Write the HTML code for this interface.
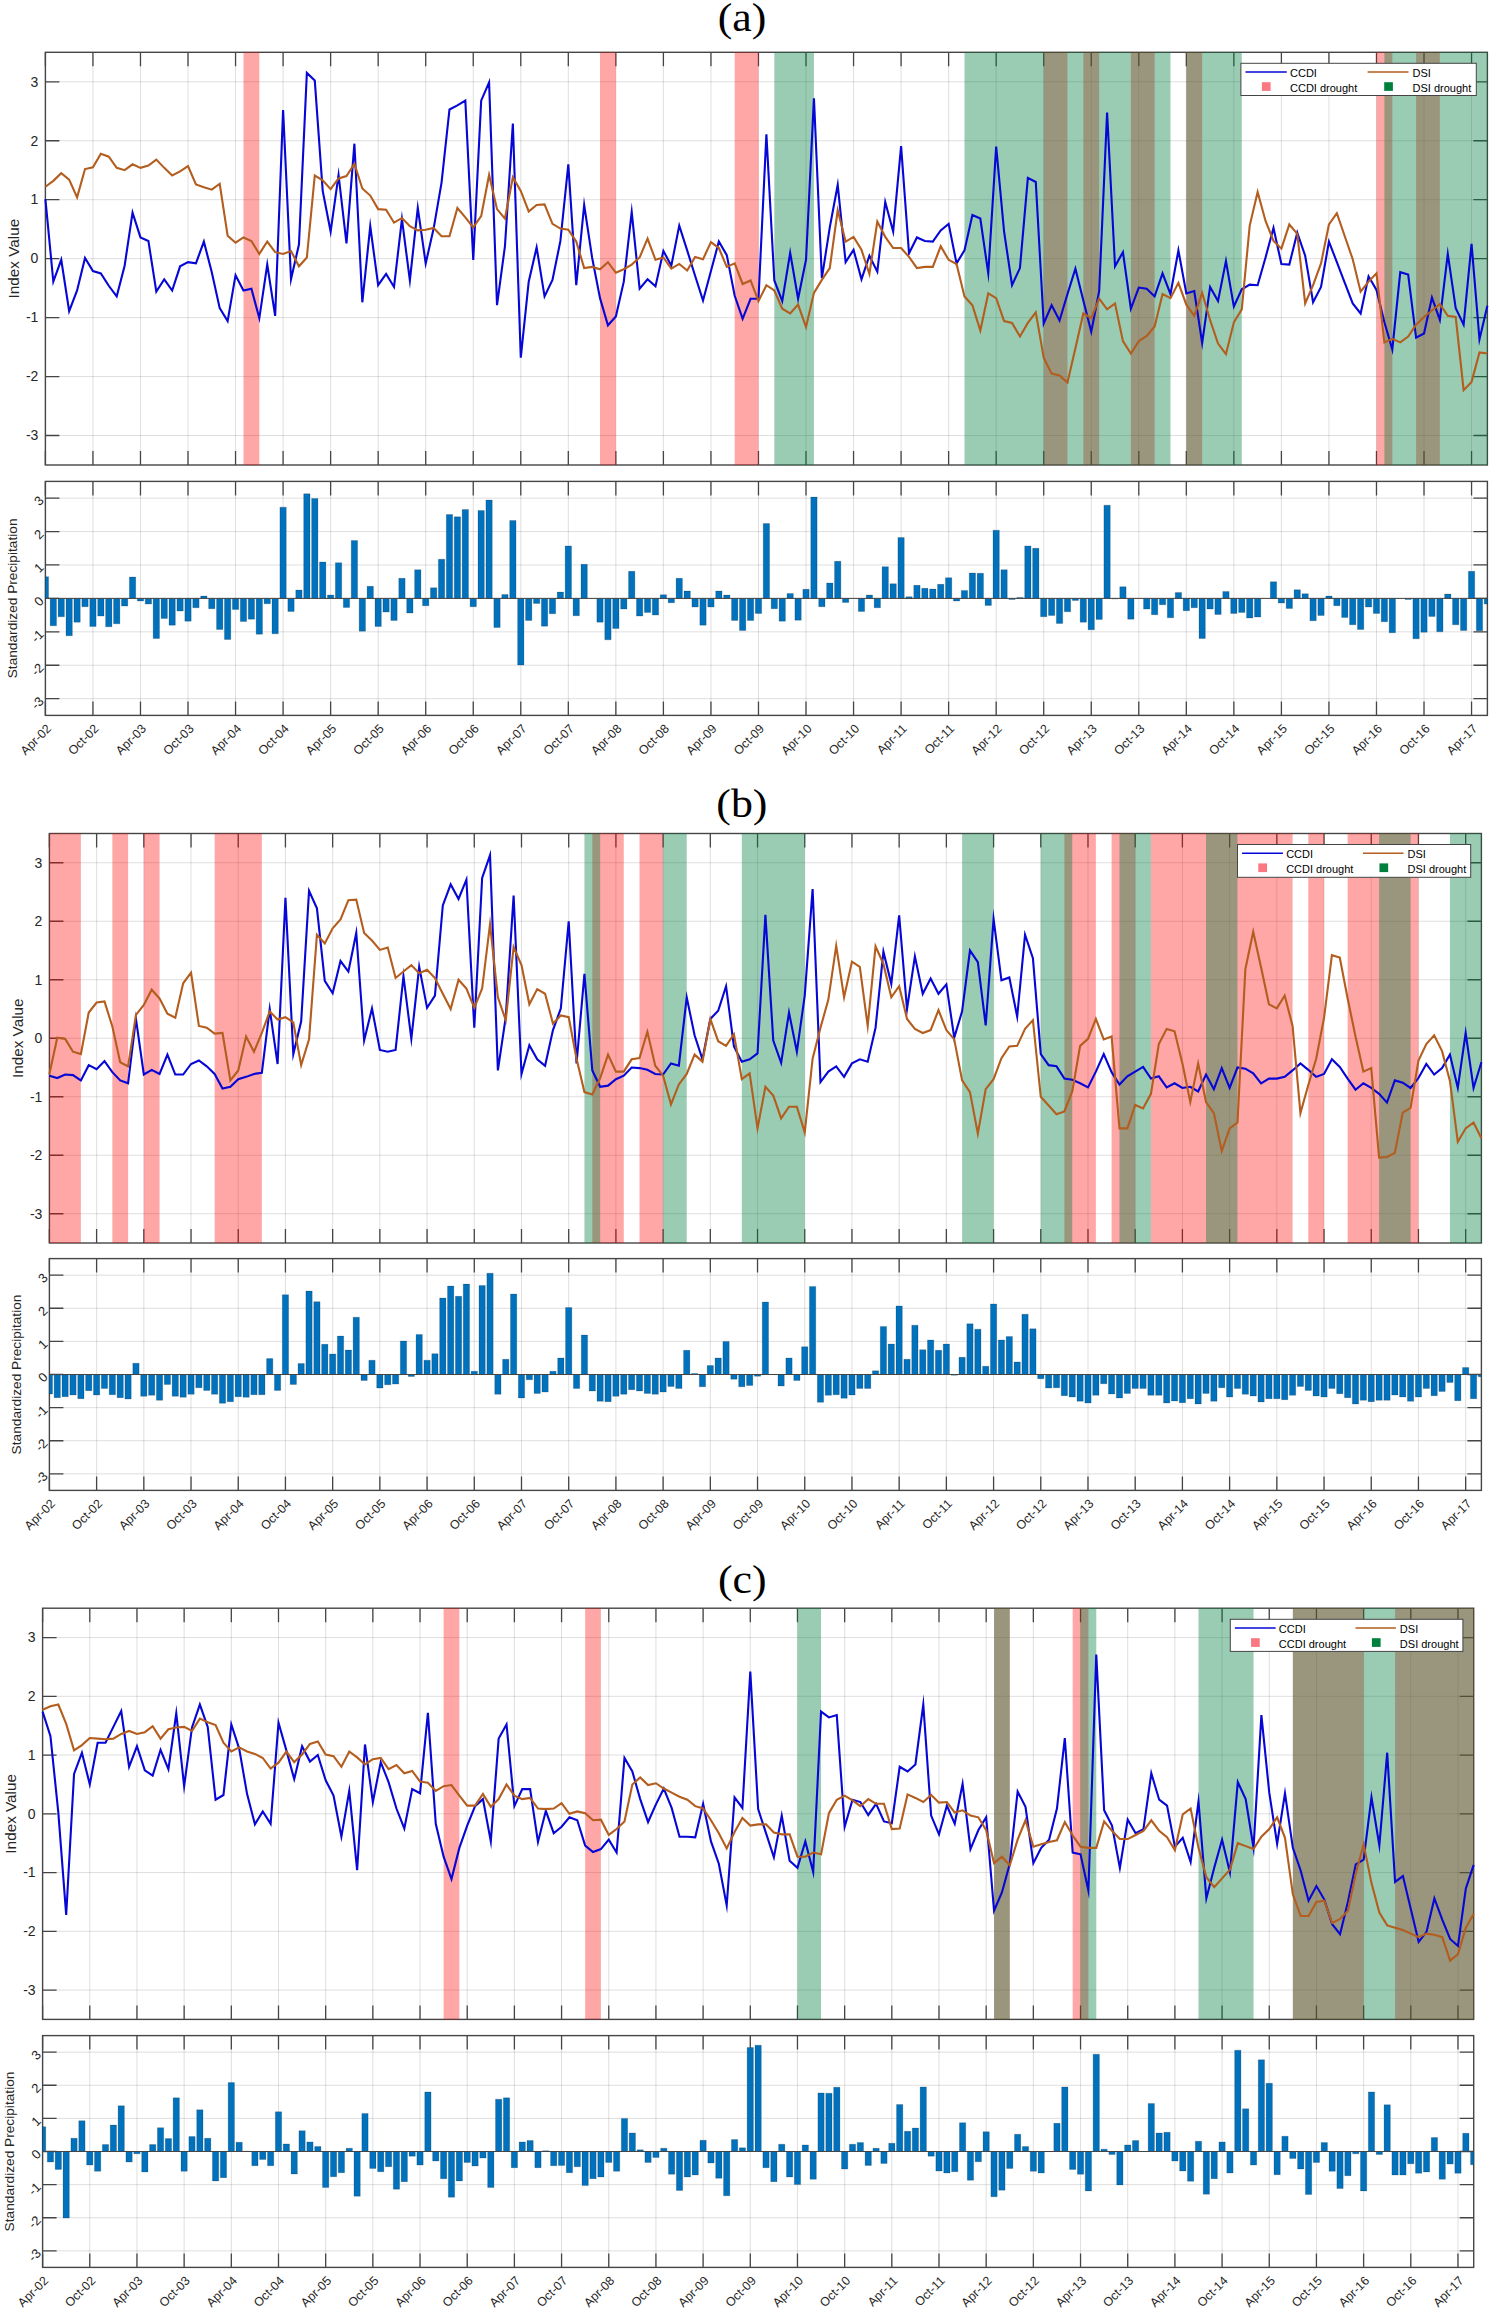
<!DOCTYPE html>
<html><head><meta charset="utf-8"><style>html,body{margin:0;padding:0;background:#fff;}svg{display:block;}</style></head><body>
<svg width="1499" height="2311" viewBox="0 0 1499 2311" font-family='"Liberation Sans", sans-serif'>
<rect width="100%" height="100%" fill="#fff"/>
<text transform="translate(742.1 31) scale(1.07 1)" font-family="'Liberation Serif', serif" font-size="41" text-anchor="middle" fill="#000">(a)</text>
<path d="M45.4 52.3V465M92.94 52.3V465M140.48 52.3V465M188.02 52.3V465M235.55 52.3V465M283.09 52.3V465M330.63 52.3V465M378.17 52.3V465M425.71 52.3V465M473.25 52.3V465M520.78 52.3V465M568.32 52.3V465M615.86 52.3V465M663.4 52.3V465M710.94 52.3V465M758.48 52.3V465M806.02 52.3V465M853.55 52.3V465M901.09 52.3V465M948.63 52.3V465M996.17 52.3V465M1043.71 52.3V465M1091.25 52.3V465M1138.78 52.3V465M1186.32 52.3V465M1233.86 52.3V465M1281.4 52.3V465M1328.94 52.3V465M1376.48 52.3V465M1424.02 52.3V465M1471.55 52.3V465M45.4 435.52H1487.4M45.4 376.56H1487.4M45.4 317.61H1487.4M45.4 258.65H1487.4M45.4 199.69H1487.4M45.4 140.74H1487.4M45.4 81.78H1487.4" stroke="#262626" stroke-opacity="0.15" stroke-width="1" fill="none"/>
<path d="M45.4 465V451M45.4 52.3V66.3M92.94 465V451M92.94 52.3V66.3M140.48 465V451M140.48 52.3V66.3M188.02 465V451M188.02 52.3V66.3M235.55 465V451M235.55 52.3V66.3M283.09 465V451M283.09 52.3V66.3M330.63 465V451M330.63 52.3V66.3M378.17 465V451M378.17 52.3V66.3M425.71 465V451M425.71 52.3V66.3M473.25 465V451M473.25 52.3V66.3M520.78 465V451M520.78 52.3V66.3M568.32 465V451M568.32 52.3V66.3M615.86 465V451M615.86 52.3V66.3M663.4 465V451M663.4 52.3V66.3M710.94 465V451M710.94 52.3V66.3M758.48 465V451M758.48 52.3V66.3M806.02 465V451M806.02 52.3V66.3M853.55 465V451M853.55 52.3V66.3M901.09 465V451M901.09 52.3V66.3M948.63 465V451M948.63 52.3V66.3M996.17 465V451M996.17 52.3V66.3M1043.71 465V451M1043.71 52.3V66.3M1091.25 465V451M1091.25 52.3V66.3M1138.78 465V451M1138.78 52.3V66.3M1186.32 465V451M1186.32 52.3V66.3M1233.86 465V451M1233.86 52.3V66.3M1281.4 465V451M1281.4 52.3V66.3M1328.94 465V451M1328.94 52.3V66.3M1376.48 465V451M1376.48 52.3V66.3M1424.02 465V451M1424.02 52.3V66.3M1471.55 465V451M1471.55 52.3V66.3M45.4 435.52H59.4M1487.4 435.52H1473.4M45.4 376.56H59.4M1487.4 376.56H1473.4M45.4 317.61H59.4M1487.4 317.61H1473.4M45.4 258.65H59.4M1487.4 258.65H1473.4M45.4 199.69H59.4M1487.4 199.69H1473.4M45.4 140.74H59.4M1487.4 140.74H1473.4M45.4 81.78H59.4M1487.4 81.78H1473.4" stroke="#454545" stroke-width="1.3" fill="none"/>
<rect x="45.4" y="52.3" width="1442" height="412.7" stroke="#454545" stroke-width="1.4" fill="none"/>
<rect x="243.48" y="52.3" width="15.85" height="412.7" fill="#ff0000" fill-opacity="0.35"/>
<rect x="600.02" y="52.3" width="15.85" height="412.7" fill="#ff0000" fill-opacity="0.35"/>
<rect x="734.71" y="52.3" width="23.77" height="412.7" fill="#ff0000" fill-opacity="0.35"/>
<rect x="1043.71" y="52.3" width="23.77" height="412.7" fill="#ff0000" fill-opacity="0.35"/>
<rect x="1083.32" y="52.3" width="15.85" height="412.7" fill="#ff0000" fill-opacity="0.35"/>
<rect x="1130.86" y="52.3" width="23.77" height="412.7" fill="#ff0000" fill-opacity="0.35"/>
<rect x="1186.32" y="52.3" width="15.85" height="412.7" fill="#ff0000" fill-opacity="0.35"/>
<rect x="1376.48" y="52.3" width="15.85" height="412.7" fill="#ff0000" fill-opacity="0.35"/>
<rect x="1416.09" y="52.3" width="23.77" height="412.7" fill="#ff0000" fill-opacity="0.35"/>
<rect x="774.32" y="52.3" width="39.62" height="412.7" fill="#008040" fill-opacity="0.4"/>
<rect x="964.48" y="52.3" width="206" height="412.7" fill="#008040" fill-opacity="0.4"/>
<rect x="1186.32" y="52.3" width="55.46" height="412.7" fill="#008040" fill-opacity="0.4"/>
<rect x="1384.4" y="52.3" width="103" height="412.7" fill="#008040" fill-opacity="0.4"/>
<polyline points="45.4,199.1 53.32,281.64 61.25,259.83 69.17,311.12 77.09,290.49 85.02,258.06 92.94,271.03 100.86,273.39 108.78,285.77 116.71,296.38 124.63,265.72 132.55,212.66 140.48,237.43 148.4,240.96 156.32,291.67 164.25,279.28 172.17,290.49 180.09,266.31 188.02,262.19 195.94,263.37 203.86,241.55 211.78,272.21 219.71,308.17 227.63,321.14 235.55,275.16 243.48,290.49 251.4,288.72 259.32,318.2 267.25,264.55 275.17,315.84 283.09,110.08 291.02,279.28 298.94,244.5 306.86,72.94 314.78,80.6 322.71,190.85 330.63,231.53 338.55,174.93 346.48,243.32 354.4,143.68 362.32,302.28 370.25,226.22 378.17,285.18 386.09,273.98 394.02,286.95 401.94,219.15 409.86,280.46 417.78,207.95 425.71,263.37 433.63,228.58 441.55,182.6 449.48,109.49 457.4,105.36 465.32,100.64 473.25,259.83 481.17,100.64 489.09,82.37 497.02,305.23 504.94,246.27 512.86,123.64 520.78,357.7 528.71,281.64 536.63,247.45 544.55,296.38 552.48,279.87 560.4,240.96 568.32,164.32 576.25,285.18 584.17,205 592.09,257.47 600.02,298.15 607.94,325.27 615.86,316.43 623.78,281.64 631.71,212.07 639.63,288.72 647.55,279.28 655.48,286.36 663.4,250.99 671.32,265.72 679.25,225.63 687.17,250.4 695.09,275.75 703.02,300.51 710.94,271.03 718.86,241.55 726.78,255.11 734.71,295.79 742.63,318.79 750.55,298.74 758.48,298.74 766.4,134.25 774.32,280.46 782.25,301.1 790.17,252.75 798.09,298.74 806.02,259.83 813.94,98.29 821.86,278.11 829.78,227.4 837.71,184.95 845.63,262.19 853.55,249.81 861.48,279.28 869.4,255.7 877.32,271.62 885.25,202.05 893.17,231.53 901.09,146.04 909.02,253.34 916.94,237.43 924.86,240.96 932.78,241.55 940.71,230.35 948.63,223.87 956.55,263.37 964.48,250.4 972.4,215.02 980.32,218.56 988.25,273.39 996.17,146.63 1004.09,231.53 1012.02,285.18 1019.94,268.08 1027.86,177.88 1035.78,182.01 1043.71,323.5 1051.63,305.23 1059.55,320.56 1067.48,294.02 1075.4,268.67 1083.32,300.51 1091.25,331.76 1099.17,291.08 1107.09,112.44 1115.02,266.31 1122.94,252.16 1130.86,308.76 1138.78,287.54 1146.71,288.72 1154.63,296.38 1162.55,273.39 1170.48,294.02 1178.4,250.4 1186.32,293.43 1194.25,291.08 1202.17,342.96 1210.09,286.95 1218.02,301.1 1225.94,261.01 1233.86,306.41 1241.78,289.31 1249.71,284.59 1257.63,285.18 1265.55,257.47 1273.48,227.99 1281.4,263.96 1289.32,264.55 1297.25,232.71 1305.17,255.7 1313.09,302.28 1321.02,286.95 1328.94,241.55 1336.86,262.19 1344.78,282.82 1352.71,303.46 1360.63,313.48 1368.55,276.34 1376.48,289.9 1384.4,322.32 1392.32,349.44 1400.25,272.21 1408.17,274.57 1416.09,337.65 1424.02,333.53 1431.94,297.56 1439.86,319.97 1447.78,253.93 1455.71,308.17 1463.63,324.68 1471.55,243.91 1479.48,339.42 1487.4,305.82" stroke="#0606d6" stroke-width="2.1" fill="none" stroke-linejoin="miter" stroke-miterlimit="10"/>
<polyline points="45.4,186.72 53.32,180.83 61.25,173.16 69.17,179.65 77.09,197.33 85.02,169.04 92.94,167.27 100.86,153.71 108.78,156.65 116.71,167.86 124.63,170.21 132.55,164.32 140.48,167.86 148.4,165.5 156.32,159.6 164.25,167.86 172.17,175.52 180.09,171.39 188.02,166.09 195.94,184.36 203.86,187.31 211.78,189.67 219.71,183.77 227.63,235.66 235.55,242.73 243.48,237.43 251.4,240.96 259.32,253.93 267.25,241.55 275.17,252.16 283.09,253.93 291.02,250.99 298.94,266.31 306.86,257.47 314.78,175.52 322.71,180.24 330.63,189.08 338.55,178.47 346.48,176.11 354.4,163.73 362.32,188.49 370.25,195.57 378.17,209.13 386.09,209.72 394.02,222.69 401.94,217.97 409.86,226.22 417.78,230.35 425.71,229.76 433.63,227.99 441.55,236.25 449.48,236.25 457.4,207.95 465.32,217.38 473.25,227.4 481.17,216.2 489.09,174.93 497.02,209.13 504.94,218.56 512.86,177.29 520.78,190.85 528.71,211.48 536.63,205 544.55,204.41 552.48,223.87 560.4,228.58 568.32,229.76 576.25,241.55 584.17,268.08 592.09,266.9 600.02,269.26 607.94,262.19 615.86,272.8 623.78,269.26 631.71,264.55 639.63,257.47 647.55,238.6 655.48,259.83 663.4,257.47 671.32,268.67 679.25,263.96 687.17,270.44 695.09,256.88 703.02,259.24 710.94,242.14 718.86,248.04 726.78,266.9 734.71,263.37 742.63,284 750.55,280.46 758.48,301.1 766.4,285.18 774.32,290.49 782.25,308.76 790.17,313.48 798.09,304.64 806.02,327.04 813.94,292.85 821.86,279.87 829.78,268.08 837.71,210.31 845.63,241.55 853.55,236.84 861.48,249.81 869.4,273.98 877.32,221.51 885.25,236.84 893.17,248.04 901.09,248.04 909.02,256.88 916.94,268.08 924.86,266.9 932.78,266.9 940.71,246.27 948.63,259.83 956.55,263.96 964.48,296.38 972.4,305.23 980.32,330.58 988.25,293.43 996.17,298.15 1004.09,321.14 1012.02,322.91 1019.94,336.47 1027.86,322.91 1035.78,312.3 1043.71,357.7 1051.63,373.62 1059.55,375.39 1067.48,382.46 1075.4,348.26 1083.32,313.48 1091.25,318.2 1099.17,298.74 1107.09,309.35 1115.02,303.46 1122.94,341.19 1130.86,353.57 1138.78,341.19 1146.71,335.88 1154.63,326.45 1162.55,294.02 1170.48,298.15 1178.4,282.82 1186.32,304.64 1194.25,315.84 1202.17,292.85 1210.09,319.97 1218.02,343.55 1225.94,354.16 1233.86,322.32 1241.78,309.35 1249.71,225.63 1257.63,192.03 1265.55,220.92 1273.48,240.96 1281.4,248.63 1289.32,224.45 1297.25,233.89 1305.17,303.46 1313.09,285.18 1321.02,263.37 1328.94,224.45 1336.86,213.25 1344.78,236.25 1352.71,259.24 1360.63,291.67 1368.55,281.64 1376.48,273.39 1384.4,342.37 1392.32,338.83 1400.25,342.37 1408.17,336.47 1416.09,324.68 1424.02,317.02 1431.94,310.53 1439.86,304.05 1447.78,315.84 1455.71,317.02 1463.63,390.12 1471.55,381.87 1479.48,352.39 1487.4,353.57" stroke="#b35d1e" stroke-width="2.1" fill="none" stroke-linejoin="miter" stroke-miterlimit="10"/>
<text x="38.4" y="435.32" font-size="14" text-anchor="end" dominant-baseline="central" fill="#262626">-3</text>
<text x="38.4" y="376.36" font-size="14" text-anchor="end" dominant-baseline="central" fill="#262626">-2</text>
<text x="38.4" y="317.41" font-size="14" text-anchor="end" dominant-baseline="central" fill="#262626">-1</text>
<text x="38.4" y="258.45" font-size="14" text-anchor="end" dominant-baseline="central" fill="#262626">0</text>
<text x="38.4" y="199.49" font-size="14" text-anchor="end" dominant-baseline="central" fill="#262626">1</text>
<text x="38.4" y="140.54" font-size="14" text-anchor="end" dominant-baseline="central" fill="#262626">2</text>
<text x="38.4" y="81.58" font-size="14" text-anchor="end" dominant-baseline="central" fill="#262626">3</text>
<text transform="translate(18.9 258.65) rotate(-90)" font-size="15.3" text-anchor="middle" fill="#262626">Index Value</text>
<rect x="1240.9" y="63.3" width="235.4" height="32.2" fill="#fff" stroke="#454545" stroke-width="1"/>
<path d="M1245.5 72H1286.8" stroke="#0606d6" stroke-width="1.5"/>
<path d="M1367.6 72H1408.5" stroke="#b35d1e" stroke-width="1.5"/>
<rect x="1261.9" y="82.2" width="8.7" height="8.7" fill="#fa7882"/>
<rect x="1384.2" y="82.2" width="8.7" height="8.7" fill="#00803c"/>
<text x="1290" y="72.5" font-size="11" dominant-baseline="central" fill="#000">CCDI</text>
<text x="1412.5" y="72.5" font-size="11" dominant-baseline="central" fill="#000">DSI</text>
<text x="1290" y="88" font-size="11" dominant-baseline="central" fill="#000">CCDI drought</text>
<text x="1412.5" y="88" font-size="11" dominant-baseline="central" fill="#000">DSI drought</text>
<path d="M45.4 481.4V715.4M92.94 481.4V715.4M140.48 481.4V715.4M188.02 481.4V715.4M235.55 481.4V715.4M283.09 481.4V715.4M330.63 481.4V715.4M378.17 481.4V715.4M425.71 481.4V715.4M473.25 481.4V715.4M520.78 481.4V715.4M568.32 481.4V715.4M615.86 481.4V715.4M663.4 481.4V715.4M710.94 481.4V715.4M758.48 481.4V715.4M806.02 481.4V715.4M853.55 481.4V715.4M901.09 481.4V715.4M948.63 481.4V715.4M996.17 481.4V715.4M1043.71 481.4V715.4M1091.25 481.4V715.4M1138.78 481.4V715.4M1186.32 481.4V715.4M1233.86 481.4V715.4M1281.4 481.4V715.4M1328.94 481.4V715.4M1376.48 481.4V715.4M1424.02 481.4V715.4M1471.55 481.4V715.4M45.4 698.69H1487.4M45.4 665.26H1487.4M45.4 631.83H1487.4M45.4 598.4H1487.4M45.4 564.97H1487.4M45.4 531.54H1487.4M45.4 498.11H1487.4" stroke="#262626" stroke-opacity="0.15" stroke-width="1" fill="none"/>
<path d="M45.4 715.4V701.4M45.4 481.4V495.4M92.94 715.4V701.4M92.94 481.4V495.4M140.48 715.4V701.4M140.48 481.4V495.4M188.02 715.4V701.4M188.02 481.4V495.4M235.55 715.4V701.4M235.55 481.4V495.4M283.09 715.4V701.4M283.09 481.4V495.4M330.63 715.4V701.4M330.63 481.4V495.4M378.17 715.4V701.4M378.17 481.4V495.4M425.71 715.4V701.4M425.71 481.4V495.4M473.25 715.4V701.4M473.25 481.4V495.4M520.78 715.4V701.4M520.78 481.4V495.4M568.32 715.4V701.4M568.32 481.4V495.4M615.86 715.4V701.4M615.86 481.4V495.4M663.4 715.4V701.4M663.4 481.4V495.4M710.94 715.4V701.4M710.94 481.4V495.4M758.48 715.4V701.4M758.48 481.4V495.4M806.02 715.4V701.4M806.02 481.4V495.4M853.55 715.4V701.4M853.55 481.4V495.4M901.09 715.4V701.4M901.09 481.4V495.4M948.63 715.4V701.4M948.63 481.4V495.4M996.17 715.4V701.4M996.17 481.4V495.4M1043.71 715.4V701.4M1043.71 481.4V495.4M1091.25 715.4V701.4M1091.25 481.4V495.4M1138.78 715.4V701.4M1138.78 481.4V495.4M1186.32 715.4V701.4M1186.32 481.4V495.4M1233.86 715.4V701.4M1233.86 481.4V495.4M1281.4 715.4V701.4M1281.4 481.4V495.4M1328.94 715.4V701.4M1328.94 481.4V495.4M1376.48 715.4V701.4M1376.48 481.4V495.4M1424.02 715.4V701.4M1424.02 481.4V495.4M1471.55 715.4V701.4M1471.55 481.4V495.4M45.4 698.69H59.4M1487.4 698.69H1473.4M45.4 665.26H59.4M1487.4 665.26H1473.4M45.4 631.83H59.4M1487.4 631.83H1473.4M45.4 598.4H59.4M1487.4 598.4H1473.4M45.4 564.97H59.4M1487.4 564.97H1473.4M45.4 531.54H59.4M1487.4 531.54H1473.4M45.4 498.11H59.4M1487.4 498.11H1473.4" stroke="#454545" stroke-width="1.3" fill="none"/>
<rect x="45.4" y="481.4" width="1442" height="234" stroke="#454545" stroke-width="1.4" fill="none"/>
<path d="M45.4 598.4H48.57V576.67H45.4ZM50.15 598.4H56.49V625.81H50.15ZM58.08 598.4H64.42V616.79H58.08ZM66 598.4H72.34V635.84H66ZM73.92 598.4H80.26V622.13H73.92ZM81.85 598.4H88.18V606.76H81.85ZM89.77 598.4H96.11V626.48H89.77ZM97.69 598.4H104.03V616.12H97.69ZM105.62 598.4H111.95V626.81H105.62ZM113.54 598.4H119.88V623.81H113.54ZM121.46 598.4H127.8V606.09H121.46ZM129.38 598.4H135.72V577.01H129.38ZM137.31 598.4H143.65V601.07H137.31ZM145.23 598.4H151.57V604.08H145.23ZM153.15 598.4H159.49V638.51H153.15ZM161.08 598.4H167.42V618.46H161.08ZM169 598.4H175.34V625.14H169ZM176.92 598.4H183.26V611.1H176.92ZM184.85 598.4H191.18V621.13H184.85ZM192.77 598.4H199.11V607.76H192.77ZM200.69 598.4H207.03V596.06H200.69ZM208.62 598.4H214.95V608.76H208.62ZM216.54 598.4H222.88V629.49H216.54ZM224.46 598.4H230.8V639.52H224.46ZM232.38 598.4H238.72V609.43H232.38ZM240.31 598.4H246.65V621.47H240.31ZM248.23 598.4H254.57V619.13H248.23ZM256.15 598.4H262.49V634.17H256.15ZM264.08 598.4H270.42V603.75H264.08ZM272 598.4H278.34V633.83H272ZM279.92 598.4H286.26V507.14H279.92ZM287.85 598.4H294.18V611.44H287.85ZM295.77 598.4H302.11V590.04H295.77ZM303.69 598.4H310.03V493.77H303.69ZM311.62 598.4H317.95V498.45H311.62ZM319.54 598.4H325.88V561.96H319.54ZM327.46 598.4H333.8V595.06H327.46ZM335.38 598.4H341.72V562.63H335.38ZM343.31 598.4H349.65V607.43H343.31ZM351.23 598.4H357.57V540.57H351.23ZM359.15 598.4H365.49V631.16H359.15ZM367.08 598.4H373.42V586.37H367.08ZM375 598.4H381.34V626.48H375ZM382.92 598.4H389.26V612.11H382.92ZM390.85 598.4H397.18V620.46H390.85ZM398.77 598.4H405.11V578.34H398.77ZM406.69 598.4H413.03V613.11H406.69ZM414.62 598.4H420.95V569.65H414.62ZM422.54 598.4H428.88V605.75H422.54ZM430.46 598.4H436.8V587.7H430.46ZM438.38 598.4H444.72V559.29H438.38ZM446.31 598.4H452.65V514.49H446.31ZM454.23 598.4H460.57V516.83H454.23ZM462.15 598.4H468.49V509.48H462.15ZM470.08 598.4H476.42V606.76H470.08ZM478 598.4H484.34V510.48H478ZM485.92 598.4H492.26V500.12H485.92ZM493.85 598.4H500.18V627.48H493.85ZM501.77 598.4H508.11V594.39H501.77ZM509.69 598.4H516.03V520.51H509.69ZM517.62 598.4H523.95V664.92H517.62ZM525.54 598.4H531.88V620.46H525.54ZM533.46 598.4H539.8V603.41H533.46ZM541.38 598.4H547.72V626.15H541.38ZM549.31 598.4H555.65V613.78H549.31ZM557.23 598.4H563.57V592.05H557.23ZM565.15 598.4H571.49V545.92H565.15ZM573.08 598.4H579.42V615.78H573.08ZM581 598.4H587.34V564.3H581ZM596.85 598.4H603.18V622.13H596.85ZM604.77 598.4H611.11V639.85H604.77ZM612.69 598.4H619.03V628.49H612.69ZM620.62 598.4H626.95V609.1H620.62ZM628.54 598.4H634.88V571.32H628.54ZM636.46 598.4H642.8V616.12H636.46ZM644.38 598.4H650.72V612.44H644.38ZM652.31 598.4H658.65V615.11H652.31ZM660.23 598.4H666.57V594.72H660.23ZM668.15 598.4H674.49V602.75H668.15ZM676.08 598.4H682.42V578.34H676.08ZM684 598.4H690.34V591.05H684ZM691.92 598.4H698.26V607.09H691.92ZM699.85 598.4H706.18V625.14H699.85ZM707.77 598.4H714.11V607.09H707.77ZM715.69 598.4H722.03V591.05H715.69ZM723.62 598.4H729.95V595.06H723.62ZM731.54 598.4H737.88V620.46H731.54ZM739.46 598.4H745.8V630.49H739.46ZM747.38 598.4H753.72V620.46H747.38ZM755.31 598.4H761.65V613.44H755.31ZM763.23 598.4H769.57V523.52H763.23ZM771.15 598.4H777.49V608.76H771.15ZM779.08 598.4H785.42V621.13H779.08ZM787 598.4H793.34V593.39H787ZM794.92 598.4H801.26V620.13H794.92ZM802.85 598.4H809.18V589.37H802.85ZM810.77 598.4H817.11V497.11H810.77ZM818.69 598.4H825.03V606.76H818.69ZM826.62 598.4H832.95V583.02H826.62ZM834.54 598.4H840.88V561.29H834.54ZM842.46 598.4H848.8V602.41H842.46ZM858.31 598.4H864.65V611.44H858.31ZM866.23 598.4H872.57V595.06H866.23ZM874.15 598.4H880.49V607.76H874.15ZM882.08 598.4H888.42V566.64H882.08ZM890 598.4H896.34V583.69H890ZM897.92 598.4H904.26V537.56H897.92ZM905.85 598.4H912.18V596.73H905.85ZM913.77 598.4H920.11V585.36H913.77ZM921.69 598.4H928.03V588.37H921.69ZM929.62 598.4H935.95V589.04H929.62ZM937.54 598.4H943.88V584.36H937.54ZM945.46 598.4H951.8V577.67H945.46ZM953.38 598.4H959.72V601.07H953.38ZM961.31 598.4H967.65V590.38H961.31ZM969.23 598.4H975.57V572.99H969.23ZM977.15 598.4H983.49V573.33H977.15ZM985.08 598.4H991.42V605.42H985.08ZM993 598.4H999.34V530.21H993ZM1000.92 598.4H1007.26V569.65H1000.92ZM1008.85 598.4H1015.18V599.4H1008.85ZM1016.77 598.4H1023.11V597.4H1016.77ZM1024.69 598.4H1031.03V545.92H1024.69ZM1032.62 598.4H1038.95V548.26H1032.62ZM1040.54 598.4H1046.88V616.79H1040.54ZM1048.46 598.4H1054.8V615.45H1048.46ZM1056.38 598.4H1062.72V623.47H1056.38ZM1064.31 598.4H1070.65V611.77H1064.31ZM1072.23 598.4H1078.57V600.41H1072.23ZM1080.15 598.4H1086.49V622.13H1080.15ZM1088.08 598.4H1094.42V629.82H1088.08ZM1096 598.4H1102.34V619.46H1096ZM1103.92 598.4H1110.26V505.13H1103.92ZM1111.85 598.4H1118.18V599.07H1111.85ZM1119.77 598.4H1126.11V586.7H1119.77ZM1127.69 598.4H1134.03V619.13H1127.69ZM1143.54 598.4H1149.88V609.1H1143.54ZM1151.46 598.4H1157.8V614.78H1151.46ZM1159.38 598.4H1165.72V604.75H1159.38ZM1167.31 598.4H1173.65V617.79H1167.31ZM1175.23 598.4H1181.57V592.38H1175.23ZM1183.15 598.4H1189.49V610.77H1183.15ZM1191.08 598.4H1197.42V607.76H1191.08ZM1199 598.4H1205.34V638.51H1199ZM1206.92 598.4H1213.26V609.1H1206.92ZM1214.85 598.4H1221.18V614.45H1214.85ZM1222.77 598.4H1229.11V591.38H1222.77ZM1230.69 598.4H1237.03V613.44H1230.69ZM1238.62 598.4H1244.95V612.44H1238.62ZM1246.54 598.4H1252.88V618.12H1246.54ZM1254.46 598.4H1260.8V617.12H1254.46ZM1270.31 598.4H1276.65V581.69H1270.31ZM1278.23 598.4H1284.57V603.08H1278.23ZM1286.15 598.4H1292.49V608.43H1286.15ZM1294.08 598.4H1300.42V589.71H1294.08ZM1302 598.4H1308.34V593.72H1302ZM1309.92 598.4H1316.26V620.8H1309.92ZM1317.85 598.4H1324.18V615.45H1317.85ZM1325.77 598.4H1332.11V596.06H1325.77ZM1333.69 598.4H1340.03V605.75H1333.69ZM1341.62 598.4H1347.95V617.45H1341.62ZM1349.54 598.4H1355.88V624.81H1349.54ZM1357.46 598.4H1363.8V629.49H1357.46ZM1365.38 598.4H1371.72V607.09H1365.38ZM1373.31 598.4H1379.65V613.44H1373.31ZM1381.23 598.4H1387.57V621.8H1381.23ZM1389.15 598.4H1395.49V632.83H1389.15ZM1405 598.4H1411.34V599.4H1405ZM1412.92 598.4H1419.26V638.85H1412.92ZM1420.85 598.4H1427.18V632.16H1420.85ZM1428.77 598.4H1435.11V616.45H1428.77ZM1436.69 598.4H1443.03V631.83H1436.69ZM1444.62 598.4H1450.95V594.05H1444.62ZM1452.54 598.4H1458.88V624.81H1452.54ZM1460.46 598.4H1466.8V630.49H1460.46ZM1468.38 598.4H1474.72V571.32H1468.38ZM1476.31 598.4H1482.65V630.83H1476.31ZM1484.23 598.4H1487.4V604.08H1484.23Z" fill="#0072bd" stroke="#000" stroke-opacity="0.35" stroke-width="0.5"/>
<path d="M45.4 598.4H1487.4" stroke="#454545" stroke-width="1"/>
<text transform="translate(41.4 698.89) rotate(-45)" font-size="13" text-anchor="end" dominant-baseline="central" fill="#262626">-3</text>
<text transform="translate(41.4 665.46) rotate(-45)" font-size="13" text-anchor="end" dominant-baseline="central" fill="#262626">-2</text>
<text transform="translate(41.4 632.03) rotate(-45)" font-size="13" text-anchor="end" dominant-baseline="central" fill="#262626">-1</text>
<text transform="translate(41.4 598.6) rotate(-45)" font-size="13" text-anchor="end" dominant-baseline="central" fill="#262626">0</text>
<text transform="translate(41.4 565.17) rotate(-45)" font-size="13" text-anchor="end" dominant-baseline="central" fill="#262626">1</text>
<text transform="translate(41.4 531.74) rotate(-45)" font-size="13" text-anchor="end" dominant-baseline="central" fill="#262626">2</text>
<text transform="translate(41.4 498.31) rotate(-45)" font-size="13" text-anchor="end" dominant-baseline="central" fill="#262626">3</text>
<text transform="translate(16.9 598.4) rotate(-90)" font-size="13.7" text-anchor="middle" fill="#262626">Standardized Precipitation</text>
<text transform="translate(51.9 729.4) rotate(-45)" font-size="12.4" text-anchor="end" fill="#262626">Apr-02</text>
<text transform="translate(99.44 729.4) rotate(-45)" font-size="12.4" text-anchor="end" fill="#262626">Oct-02</text>
<text transform="translate(146.98 729.4) rotate(-45)" font-size="12.4" text-anchor="end" fill="#262626">Apr-03</text>
<text transform="translate(194.52 729.4) rotate(-45)" font-size="12.4" text-anchor="end" fill="#262626">Oct-03</text>
<text transform="translate(242.05 729.4) rotate(-45)" font-size="12.4" text-anchor="end" fill="#262626">Apr-04</text>
<text transform="translate(289.59 729.4) rotate(-45)" font-size="12.4" text-anchor="end" fill="#262626">Oct-04</text>
<text transform="translate(337.13 729.4) rotate(-45)" font-size="12.4" text-anchor="end" fill="#262626">Apr-05</text>
<text transform="translate(384.67 729.4) rotate(-45)" font-size="12.4" text-anchor="end" fill="#262626">Oct-05</text>
<text transform="translate(432.21 729.4) rotate(-45)" font-size="12.4" text-anchor="end" fill="#262626">Apr-06</text>
<text transform="translate(479.75 729.4) rotate(-45)" font-size="12.4" text-anchor="end" fill="#262626">Oct-06</text>
<text transform="translate(527.28 729.4) rotate(-45)" font-size="12.4" text-anchor="end" fill="#262626">Apr-07</text>
<text transform="translate(574.82 729.4) rotate(-45)" font-size="12.4" text-anchor="end" fill="#262626">Oct-07</text>
<text transform="translate(622.36 729.4) rotate(-45)" font-size="12.4" text-anchor="end" fill="#262626">Apr-08</text>
<text transform="translate(669.9 729.4) rotate(-45)" font-size="12.4" text-anchor="end" fill="#262626">Oct-08</text>
<text transform="translate(717.44 729.4) rotate(-45)" font-size="12.4" text-anchor="end" fill="#262626">Apr-09</text>
<text transform="translate(764.98 729.4) rotate(-45)" font-size="12.4" text-anchor="end" fill="#262626">Oct-09</text>
<text transform="translate(812.52 729.4) rotate(-45)" font-size="12.4" text-anchor="end" fill="#262626">Apr-10</text>
<text transform="translate(860.05 729.4) rotate(-45)" font-size="12.4" text-anchor="end" fill="#262626">Oct-10</text>
<text transform="translate(907.59 729.4) rotate(-45)" font-size="12.4" text-anchor="end" fill="#262626">Apr-11</text>
<text transform="translate(955.13 729.4) rotate(-45)" font-size="12.4" text-anchor="end" fill="#262626">Oct-11</text>
<text transform="translate(1002.67 729.4) rotate(-45)" font-size="12.4" text-anchor="end" fill="#262626">Apr-12</text>
<text transform="translate(1050.21 729.4) rotate(-45)" font-size="12.4" text-anchor="end" fill="#262626">Oct-12</text>
<text transform="translate(1097.75 729.4) rotate(-45)" font-size="12.4" text-anchor="end" fill="#262626">Apr-13</text>
<text transform="translate(1145.28 729.4) rotate(-45)" font-size="12.4" text-anchor="end" fill="#262626">Oct-13</text>
<text transform="translate(1192.82 729.4) rotate(-45)" font-size="12.4" text-anchor="end" fill="#262626">Apr-14</text>
<text transform="translate(1240.36 729.4) rotate(-45)" font-size="12.4" text-anchor="end" fill="#262626">Oct-14</text>
<text transform="translate(1287.9 729.4) rotate(-45)" font-size="12.4" text-anchor="end" fill="#262626">Apr-15</text>
<text transform="translate(1335.44 729.4) rotate(-45)" font-size="12.4" text-anchor="end" fill="#262626">Oct-15</text>
<text transform="translate(1382.98 729.4) rotate(-45)" font-size="12.4" text-anchor="end" fill="#262626">Apr-16</text>
<text transform="translate(1430.52 729.4) rotate(-45)" font-size="12.4" text-anchor="end" fill="#262626">Oct-16</text>
<text transform="translate(1478.05 729.4) rotate(-45)" font-size="12.4" text-anchor="end" fill="#262626">Apr-17</text>
<text transform="translate(741.9 817) scale(1.07 1)" font-family="'Liberation Serif', serif" font-size="41" text-anchor="middle" fill="#000">(b)</text>
<path d="M49.4 833.5V1243M96.61 833.5V1243M143.82 833.5V1243M191.03 833.5V1243M238.24 833.5V1243M285.44 833.5V1243M332.65 833.5V1243M379.86 833.5V1243M427.07 833.5V1243M474.28 833.5V1243M521.49 833.5V1243M568.7 833.5V1243M615.91 833.5V1243M663.11 833.5V1243M710.32 833.5V1243M757.53 833.5V1243M804.74 833.5V1243M851.95 833.5V1243M899.16 833.5V1243M946.37 833.5V1243M993.58 833.5V1243M1040.78 833.5V1243M1087.99 833.5V1243M1135.2 833.5V1243M1182.41 833.5V1243M1229.62 833.5V1243M1276.83 833.5V1243M1324.04 833.5V1243M1371.25 833.5V1243M1418.45 833.5V1243M1465.66 833.5V1243M49.4 1213.75H1481.4M49.4 1155.25H1481.4M49.4 1096.75H1481.4M49.4 1038.25H1481.4M49.4 979.75H1481.4M49.4 921.25H1481.4M49.4 862.75H1481.4" stroke="#262626" stroke-opacity="0.15" stroke-width="1" fill="none"/>
<path d="M49.4 1243V1229M49.4 833.5V847.5M96.61 1243V1229M96.61 833.5V847.5M143.82 1243V1229M143.82 833.5V847.5M191.03 1243V1229M191.03 833.5V847.5M238.24 1243V1229M238.24 833.5V847.5M285.44 1243V1229M285.44 833.5V847.5M332.65 1243V1229M332.65 833.5V847.5M379.86 1243V1229M379.86 833.5V847.5M427.07 1243V1229M427.07 833.5V847.5M474.28 1243V1229M474.28 833.5V847.5M521.49 1243V1229M521.49 833.5V847.5M568.7 1243V1229M568.7 833.5V847.5M615.91 1243V1229M615.91 833.5V847.5M663.11 1243V1229M663.11 833.5V847.5M710.32 1243V1229M710.32 833.5V847.5M757.53 1243V1229M757.53 833.5V847.5M804.74 1243V1229M804.74 833.5V847.5M851.95 1243V1229M851.95 833.5V847.5M899.16 1243V1229M899.16 833.5V847.5M946.37 1243V1229M946.37 833.5V847.5M993.58 1243V1229M993.58 833.5V847.5M1040.78 1243V1229M1040.78 833.5V847.5M1087.99 1243V1229M1087.99 833.5V847.5M1135.2 1243V1229M1135.2 833.5V847.5M1182.41 1243V1229M1182.41 833.5V847.5M1229.62 1243V1229M1229.62 833.5V847.5M1276.83 1243V1229M1276.83 833.5V847.5M1324.04 1243V1229M1324.04 833.5V847.5M1371.25 1243V1229M1371.25 833.5V847.5M1418.45 1243V1229M1418.45 833.5V847.5M1465.66 1243V1229M1465.66 833.5V847.5M49.4 1213.75H63.4M1481.4 1213.75H1467.4M49.4 1155.25H63.4M1481.4 1155.25H1467.4M49.4 1096.75H63.4M1481.4 1096.75H1467.4M49.4 1038.25H63.4M1481.4 1038.25H1467.4M49.4 979.75H63.4M1481.4 979.75H1467.4M49.4 921.25H63.4M1481.4 921.25H1467.4M49.4 862.75H63.4M1481.4 862.75H1467.4" stroke="#454545" stroke-width="1.3" fill="none"/>
<rect x="49.4" y="833.5" width="1432" height="409.5" stroke="#454545" stroke-width="1.4" fill="none"/>
<rect x="49.4" y="833.5" width="31.47" height="409.5" fill="#ff0000" fill-opacity="0.35"/>
<rect x="112.35" y="833.5" width="15.74" height="409.5" fill="#ff0000" fill-opacity="0.35"/>
<rect x="143.82" y="833.5" width="15.74" height="409.5" fill="#ff0000" fill-opacity="0.35"/>
<rect x="214.63" y="833.5" width="47.21" height="409.5" fill="#ff0000" fill-opacity="0.35"/>
<rect x="592.3" y="833.5" width="31.47" height="409.5" fill="#ff0000" fill-opacity="0.35"/>
<rect x="639.51" y="833.5" width="23.6" height="409.5" fill="#ff0000" fill-opacity="0.35"/>
<rect x="1064.39" y="833.5" width="31.47" height="409.5" fill="#ff0000" fill-opacity="0.35"/>
<rect x="1111.6" y="833.5" width="23.6" height="409.5" fill="#ff0000" fill-opacity="0.35"/>
<rect x="1150.94" y="833.5" width="141.63" height="409.5" fill="#ff0000" fill-opacity="0.35"/>
<rect x="1308.3" y="833.5" width="15.74" height="409.5" fill="#ff0000" fill-opacity="0.35"/>
<rect x="1347.64" y="833.5" width="70.81" height="409.5" fill="#ff0000" fill-opacity="0.35"/>
<rect x="584.43" y="833.5" width="15.74" height="409.5" fill="#008040" fill-opacity="0.4"/>
<rect x="663.11" y="833.5" width="23.6" height="409.5" fill="#008040" fill-opacity="0.4"/>
<rect x="741.8" y="833.5" width="62.95" height="409.5" fill="#008040" fill-opacity="0.4"/>
<rect x="962.1" y="833.5" width="31.47" height="409.5" fill="#008040" fill-opacity="0.4"/>
<rect x="1040.78" y="833.5" width="31.47" height="409.5" fill="#008040" fill-opacity="0.4"/>
<rect x="1119.47" y="833.5" width="31.47" height="409.5" fill="#008040" fill-opacity="0.4"/>
<rect x="1206.02" y="833.5" width="31.47" height="409.5" fill="#008040" fill-opacity="0.4"/>
<rect x="1379.11" y="833.5" width="31.47" height="409.5" fill="#008040" fill-opacity="0.4"/>
<rect x="1449.93" y="833.5" width="31.47" height="409.5" fill="#008040" fill-opacity="0.4"/>
<polyline points="49.4,1075.69 57.27,1078.03 65.14,1074.52 73,1075.11 80.87,1080.37 88.74,1065.16 96.61,1069.26 104.48,1061.07 112.35,1072.18 120.21,1080.37 128.08,1083.3 135.95,1018.94 143.82,1074.52 151.69,1069.84 159.55,1073.93 167.42,1054.63 175.29,1074.52 183.16,1074.52 191.03,1063.99 198.89,1060.48 206.76,1066.33 214.63,1073.93 222.5,1088.56 230.37,1086.81 238.24,1079.2 246.1,1076.86 253.97,1073.93 261.84,1072.76 269.71,1009 277.58,1063.99 285.44,897.85 293.31,1054.05 301.18,1021.28 309.05,890.83 316.92,908.38 324.78,980.92 332.65,993.21 340.52,961.03 348.39,971.56 356.26,932.95 364.13,1040.59 371.99,1008.41 379.86,1049.95 387.73,1051.7 395.6,1049.95 403.47,976.24 411.33,1038.84 419.2,966.88 427.07,1007.83 434.94,995.54 442.81,905.46 450.67,884.39 458.54,899.02 466.41,879.72 474.28,1027.72 482.15,877.96 490.02,855.14 497.88,1070.42 505.75,1017.19 513.62,895.51 521.49,1073.93 529.36,1045.27 537.22,1059.31 545.09,1065.74 552.96,1030.06 560.83,1008.41 568.7,921.25 576.56,1063.4 584.43,973.9 592.3,1070.42 600.17,1086.81 608.04,1085.63 615.91,1079.2 623.77,1075.69 631.64,1067.5 639.51,1068.09 647.38,1069.84 655.25,1073.93 663.11,1074.52 670.98,1063.4 678.85,1065.74 686.72,997.3 694.59,1035.33 702.45,1059.31 710.32,1018.94 718.19,1010.75 726.06,986.18 733.93,1046.44 741.8,1061.65 749.66,1059.31 757.53,1053.46 765.4,914.82 773.27,1040.59 781.14,1062.82 789,1012.51 796.87,1051.7 804.74,995.54 812.61,889.08 820.48,1082.12 828.35,1071.6 836.21,1066.33 844.08,1076.86 851.95,1063.4 859.82,1059.31 867.69,1061.65 875.55,1027.72 883.42,951.67 891.29,983.85 899.16,915.4 907.03,1009 914.89,956.35 922.76,993.79 930.63,978.58 938.5,993.79 946.37,984.43 954.24,1037.66 962.1,1011.34 969.97,950.5 977.84,962.2 985.71,1025.38 993.58,918.91 1001.44,980.34 1009.31,977.41 1017.18,1016.61 1025.05,934.71 1032.92,958.11 1040.78,1054.05 1048.65,1065.16 1056.52,1066.33 1064.39,1078.62 1072.26,1079.79 1080.13,1083.3 1087.99,1087.39 1095.86,1071.6 1103.73,1054.05 1111.6,1072.18 1119.47,1084.46 1127.33,1076.28 1135.2,1071.6 1143.07,1066.91 1150.94,1078.62 1158.81,1076.28 1166.67,1087.39 1174.54,1083.3 1182.41,1087.97 1190.28,1086.81 1198.15,1091.49 1206.02,1074.52 1213.88,1089.14 1221.75,1068.09 1229.62,1087.97 1237.49,1067.5 1245.36,1068.67 1253.22,1073.35 1261.09,1083.3 1268.96,1078.62 1276.83,1078.62 1284.7,1076.86 1292.56,1070.42 1300.43,1063.4 1308.3,1069.84 1316.17,1076.86 1324.04,1073.93 1331.91,1059.31 1339.77,1066.91 1347.64,1078.62 1355.51,1089.73 1363.38,1083.3 1371.25,1087.97 1379.11,1093.83 1386.98,1102.6 1394.85,1080.37 1402.72,1082.71 1410.59,1087.97 1418.45,1078.03 1426.32,1063.99 1434.19,1074.52 1442.06,1068.09 1449.93,1054.63 1457.8,1087.97 1465.66,1032.99 1473.53,1087.97 1481.4,1062.24" stroke="#0606d6" stroke-width="2.1" fill="none" stroke-linejoin="miter" stroke-miterlimit="10"/>
<polyline points="49.4,1073.93 57.27,1037.66 65.14,1038.84 73,1051.7 80.87,1054.05 88.74,1012.51 96.61,1002.57 104.48,1001.39 112.35,1026.55 120.21,1062.24 128.08,1066.33 135.95,1014.85 143.82,1004.9 151.69,989.69 159.55,998.47 167.42,1013.68 175.29,1017.77 183.16,983.26 191.03,972.73 198.89,1025.96 206.76,1027.72 214.63,1033.57 222.5,1032.99 230.37,1080.37 238.24,1070.42 246.1,1036.49 253.97,1051.7 261.84,1032.99 269.71,1011.34 277.58,1019.53 285.44,1017.19 293.31,1022.46 301.18,1065.16 309.05,1039.42 316.92,934.71 324.78,943.48 332.65,928.27 340.52,919.5 348.39,900.19 356.26,899.61 364.13,932.95 371.99,940.56 379.86,949.91 387.73,947.58 395.6,978 403.47,971.56 411.33,965.12 419.2,973.31 427.07,969.81 434.94,978 442.81,993.79 450.67,1009 458.54,979.75 466.41,988.52 474.28,1007.83 482.15,988.52 490.02,924.17 497.88,997.3 505.75,1020.12 513.62,946.99 521.49,965.12 529.36,1004.32 537.22,989.11 545.09,993.79 552.96,1023.62 560.83,1015.43 568.7,1017.19 576.56,1058.72 584.43,1092.07 592.3,1094.41 600.17,1078.03 608.04,1054.63 615.91,1071.6 623.77,1071.6 631.64,1059.31 639.51,1058.14 647.38,1031.82 655.25,1065.74 663.11,1075.69 670.98,1104.36 678.85,1084.46 686.72,1073.93 694.59,1054.63 702.45,1061.65 710.32,1018.94 718.19,1041.17 726.06,1045.86 733.93,1034.15 741.8,1079.2 749.66,1073.35 757.53,1128.34 765.4,1086.81 773.27,1095.58 781.14,1118.39 789,1106.69 796.87,1106.69 804.74,1132.43 812.61,1058.72 820.48,1027.72 828.35,999.64 836.21,945.82 844.08,997.3 851.95,961.62 859.82,966.88 867.69,1025.96 875.55,946.4 883.42,963.96 891.29,997.3 899.16,986.18 907.03,1018.94 914.89,1028.89 922.76,1032.99 930.63,1030.06 938.5,1010.17 946.37,1030.06 954.24,1039.42 962.1,1080.37 969.97,1092.07 977.84,1133.61 985.71,1089.14 993.58,1079.2 1001.44,1058.14 1009.31,1046.44 1017.18,1045.86 1025.05,1028.89 1032.92,1020.12 1040.78,1096.75 1048.65,1105.53 1056.52,1114.3 1064.39,1111.38 1072.26,1091.49 1080.13,1045.86 1087.99,1038.84 1095.86,1018.94 1103.73,1039.42 1111.6,1036.49 1119.47,1128.34 1127.33,1128.34 1135.2,1104.94 1143.07,1108.45 1150.94,1093.83 1158.81,1044.1 1166.67,1028.89 1174.54,1031.23 1182.41,1063.4 1190.28,1102.01 1198.15,1063.4 1206.02,1102.01 1213.88,1113.13 1221.75,1151.15 1229.62,1128.34 1237.49,1122.49 1245.36,969.22 1253.22,931.78 1261.09,967.47 1268.96,1004.32 1276.83,1008.41 1284.7,995.54 1292.56,1025.96 1300.43,1113.13 1308.3,1085.05 1316.17,1058.72 1324.04,1017.77 1331.91,955.18 1339.77,957.52 1347.64,998.47 1355.51,1036.49 1363.38,1071.6 1371.25,1068.09 1379.11,1157.59 1386.98,1157 1394.85,1152.91 1402.72,1112.55 1410.59,1107.87 1418.45,1060.48 1426.32,1044.1 1434.19,1035.33 1442.06,1051.12 1449.93,1080.95 1457.8,1141.8 1465.66,1128.34 1473.53,1122.49 1481.4,1138.29" stroke="#b35d1e" stroke-width="2.1" fill="none" stroke-linejoin="miter" stroke-miterlimit="10"/>
<text x="42.4" y="1213.55" font-size="14" text-anchor="end" dominant-baseline="central" fill="#262626">-3</text>
<text x="42.4" y="1155.05" font-size="14" text-anchor="end" dominant-baseline="central" fill="#262626">-2</text>
<text x="42.4" y="1096.55" font-size="14" text-anchor="end" dominant-baseline="central" fill="#262626">-1</text>
<text x="42.4" y="1038.05" font-size="14" text-anchor="end" dominant-baseline="central" fill="#262626">0</text>
<text x="42.4" y="979.55" font-size="14" text-anchor="end" dominant-baseline="central" fill="#262626">1</text>
<text x="42.4" y="921.05" font-size="14" text-anchor="end" dominant-baseline="central" fill="#262626">2</text>
<text x="42.4" y="862.55" font-size="14" text-anchor="end" dominant-baseline="central" fill="#262626">3</text>
<text transform="translate(22.9 1038.25) rotate(-90)" font-size="15.3" text-anchor="middle" fill="#262626">Index Value</text>
<rect x="1237.5" y="844.5" width="233.2" height="32.8" fill="#fff" stroke="#454545" stroke-width="1"/>
<path d="M1242.06 853.2H1282.97" stroke="#0606d6" stroke-width="1.5"/>
<path d="M1363.02 853.2H1403.53" stroke="#b35d1e" stroke-width="1.5"/>
<rect x="1258.3" y="863.4" width="8.7" height="8.7" fill="#fa7882"/>
<rect x="1379.46" y="863.4" width="8.7" height="8.7" fill="#00803c"/>
<text x="1286.14" y="853.7" font-size="11" dominant-baseline="central" fill="#000">CCDI</text>
<text x="1407.5" y="853.7" font-size="11" dominant-baseline="central" fill="#000">DSI</text>
<text x="1286.14" y="869.2" font-size="11" dominant-baseline="central" fill="#000">CCDI drought</text>
<text x="1407.5" y="869.2" font-size="11" dominant-baseline="central" fill="#000">DSI drought</text>
<path d="M49.4 1258.6V1490.4M96.61 1258.6V1490.4M143.82 1258.6V1490.4M191.03 1258.6V1490.4M238.24 1258.6V1490.4M285.44 1258.6V1490.4M332.65 1258.6V1490.4M379.86 1258.6V1490.4M427.07 1258.6V1490.4M474.28 1258.6V1490.4M521.49 1258.6V1490.4M568.7 1258.6V1490.4M615.91 1258.6V1490.4M663.11 1258.6V1490.4M710.32 1258.6V1490.4M757.53 1258.6V1490.4M804.74 1258.6V1490.4M851.95 1258.6V1490.4M899.16 1258.6V1490.4M946.37 1258.6V1490.4M993.58 1258.6V1490.4M1040.78 1258.6V1490.4M1087.99 1258.6V1490.4M1135.2 1258.6V1490.4M1182.41 1258.6V1490.4M1229.62 1258.6V1490.4M1276.83 1258.6V1490.4M1324.04 1258.6V1490.4M1371.25 1258.6V1490.4M1418.45 1258.6V1490.4M1465.66 1258.6V1490.4M49.4 1473.84H1481.4M49.4 1440.73H1481.4M49.4 1407.61H1481.4M49.4 1374.5H1481.4M49.4 1341.39H1481.4M49.4 1308.27H1481.4M49.4 1275.16H1481.4" stroke="#262626" stroke-opacity="0.15" stroke-width="1" fill="none"/>
<path d="M49.4 1490.4V1476.4M49.4 1258.6V1272.6M96.61 1490.4V1476.4M96.61 1258.6V1272.6M143.82 1490.4V1476.4M143.82 1258.6V1272.6M191.03 1490.4V1476.4M191.03 1258.6V1272.6M238.24 1490.4V1476.4M238.24 1258.6V1272.6M285.44 1490.4V1476.4M285.44 1258.6V1272.6M332.65 1490.4V1476.4M332.65 1258.6V1272.6M379.86 1490.4V1476.4M379.86 1258.6V1272.6M427.07 1490.4V1476.4M427.07 1258.6V1272.6M474.28 1490.4V1476.4M474.28 1258.6V1272.6M521.49 1490.4V1476.4M521.49 1258.6V1272.6M568.7 1490.4V1476.4M568.7 1258.6V1272.6M615.91 1490.4V1476.4M615.91 1258.6V1272.6M663.11 1490.4V1476.4M663.11 1258.6V1272.6M710.32 1490.4V1476.4M710.32 1258.6V1272.6M757.53 1490.4V1476.4M757.53 1258.6V1272.6M804.74 1490.4V1476.4M804.74 1258.6V1272.6M851.95 1490.4V1476.4M851.95 1258.6V1272.6M899.16 1490.4V1476.4M899.16 1258.6V1272.6M946.37 1490.4V1476.4M946.37 1258.6V1272.6M993.58 1490.4V1476.4M993.58 1258.6V1272.6M1040.78 1490.4V1476.4M1040.78 1258.6V1272.6M1087.99 1490.4V1476.4M1087.99 1258.6V1272.6M1135.2 1490.4V1476.4M1135.2 1258.6V1272.6M1182.41 1490.4V1476.4M1182.41 1258.6V1272.6M1229.62 1490.4V1476.4M1229.62 1258.6V1272.6M1276.83 1490.4V1476.4M1276.83 1258.6V1272.6M1324.04 1490.4V1476.4M1324.04 1258.6V1272.6M1371.25 1490.4V1476.4M1371.25 1258.6V1272.6M1418.45 1490.4V1476.4M1418.45 1258.6V1272.6M1465.66 1490.4V1476.4M1465.66 1258.6V1272.6M49.4 1473.84H63.4M1481.4 1473.84H1467.4M49.4 1440.73H63.4M1481.4 1440.73H1467.4M49.4 1407.61H63.4M1481.4 1407.61H1467.4M49.4 1374.5H63.4M1481.4 1374.5H1467.4M49.4 1341.39H63.4M1481.4 1341.39H1467.4M49.4 1308.27H63.4M1481.4 1308.27H1467.4M49.4 1275.16H63.4M1481.4 1275.16H1467.4" stroke="#454545" stroke-width="1.3" fill="none"/>
<rect x="49.4" y="1258.6" width="1432" height="231.8" stroke="#454545" stroke-width="1.4" fill="none"/>
<path d="M49.4 1374.5H52.55V1394.04H49.4ZM54.12 1374.5H60.42V1397.68H54.12ZM61.99 1374.5H68.28V1396.69H61.99ZM69.86 1374.5H76.15V1395.03H69.86ZM77.73 1374.5H84.02V1398.67H77.73ZM85.59 1374.5H91.89V1390.73H85.59ZM93.46 1374.5H99.76V1395.03H93.46ZM101.33 1374.5H107.62V1388.41H101.33ZM109.2 1374.5H115.49V1394.7H109.2ZM117.07 1374.5H123.36V1397.68H117.07ZM124.93 1374.5H131.23V1399H124.93ZM132.8 1374.5H139.1V1363.24H132.8ZM140.67 1374.5H146.96V1396.36H140.67ZM148.54 1374.5H154.83V1395.36H148.54ZM156.41 1374.5H162.7V1400.33H156.41ZM164.27 1374.5H170.57V1384.43H164.27ZM172.14 1374.5H178.44V1396.36H172.14ZM180.01 1374.5H186.31V1397.35H180.01ZM187.88 1374.5H194.17V1394.37H187.88ZM195.75 1374.5H202.04V1387.75H195.75ZM203.62 1374.5H209.91V1390.39H203.62ZM211.48 1374.5H217.78V1394.37H211.48ZM219.35 1374.5H225.65V1403.31H219.35ZM227.22 1374.5H233.51V1401.65H227.22ZM235.09 1374.5H241.38V1396.69H235.09ZM242.96 1374.5H249.25V1397.35H242.96ZM250.82 1374.5H257.12V1394.7H250.82ZM258.69 1374.5H264.99V1394.7H258.69ZM266.56 1374.5H272.85V1358.61H266.56ZM274.43 1374.5H280.72V1390.39H274.43ZM282.3 1374.5H288.59V1294.69H282.3ZM290.16 1374.5H296.46V1384.43H290.16ZM298.03 1374.5H304.33V1363.57H298.03ZM305.9 1374.5H312.2V1291.05H305.9ZM313.77 1374.5H320.06V1301.65H313.77ZM321.64 1374.5H327.93V1344.37H321.64ZM329.51 1374.5H335.8V1353.97H329.51ZM337.37 1374.5H343.67V1336.09H337.37ZM345.24 1374.5H351.54V1350H345.24ZM353.11 1374.5H359.4V1317.21H353.11ZM360.98 1374.5H367.27V1380.46H360.98ZM368.85 1374.5H375.14V1360.26H368.85ZM376.71 1374.5H383.01V1388.08H376.71ZM384.58 1374.5H390.88V1384.77H384.58ZM392.45 1374.5H398.75V1384.1H392.45ZM400.32 1374.5H406.61V1341.05H400.32ZM408.19 1374.5H414.48V1376.49H408.19ZM416.05 1374.5H422.35V1334.43H416.05ZM423.92 1374.5H430.22V1360.26H423.92ZM431.79 1374.5H438.09V1353.64H431.79ZM439.66 1374.5H445.95V1298.01H439.66ZM447.53 1374.5H453.82V1286.08H447.53ZM455.4 1374.5H461.69V1296.35H455.4ZM463.26 1374.5H469.56V1284.1H463.26ZM471.13 1374.5H477.43V1371.19H471.13ZM479 1374.5H485.29V1285.42H479ZM486.87 1374.5H493.16V1273.17H486.87ZM494.74 1374.5H501.03V1394.37H494.74ZM502.6 1374.5H508.9V1359.27H502.6ZM510.47 1374.5H516.77V1294.03H510.47ZM518.34 1374.5H524.64V1398.01H518.34ZM526.21 1374.5H532.5V1379.8H526.21ZM534.08 1374.5H540.37V1393.38H534.08ZM541.95 1374.5H548.24V1392.05H541.95ZM549.81 1374.5H556.11V1371.19H549.81ZM557.68 1374.5H563.98V1357.94H557.68ZM565.55 1374.5H571.84V1307.61H565.55ZM573.42 1374.5H579.71V1388.41H573.42ZM581.29 1374.5H587.58V1335.09H581.29ZM589.15 1374.5H595.45V1391.06H589.15ZM597.02 1374.5H603.32V1401.32H597.02ZM604.89 1374.5H611.18V1401.65H604.89ZM612.76 1374.5H619.05V1396.36H612.76ZM620.63 1374.5H626.92V1394.37H620.63ZM628.49 1374.5H634.79V1389.73H628.49ZM636.36 1374.5H642.66V1391.06H636.36ZM644.23 1374.5H650.53V1393.38H644.23ZM652.1 1374.5H658.39V1394.37H652.1ZM659.97 1374.5H666.26V1392.05H659.97ZM667.84 1374.5H674.13V1386.42H667.84ZM675.7 1374.5H682V1388.41H675.7ZM683.57 1374.5H689.87V1350.33H683.57ZM691.44 1374.5H697.73V1373.51H691.44ZM699.31 1374.5H705.6V1386.75H699.31ZM707.18 1374.5H713.47V1365.56H707.18ZM715.04 1374.5H721.34V1357.94H715.04ZM722.91 1374.5H729.21V1341.39H722.91ZM730.78 1374.5H737.07V1379.14H730.78ZM738.65 1374.5H744.94V1386.75H738.65ZM746.52 1374.5H752.81V1385.43H746.52ZM754.38 1374.5H760.68V1376.16H754.38ZM762.25 1374.5H768.55V1301.98H762.25ZM777.99 1374.5H784.28V1386.09H777.99ZM785.86 1374.5H792.15V1357.94H785.86ZM793.73 1374.5H800.02V1380.46H793.73ZM801.59 1374.5H807.89V1346.68H801.59ZM809.46 1374.5H815.76V1286.42H809.46ZM817.33 1374.5H823.62V1402.32H817.33ZM825.2 1374.5H831.49V1395.36H825.2ZM833.07 1374.5H839.36V1394.7H833.07ZM840.93 1374.5H847.23V1398.34H840.93ZM848.8 1374.5H855.1V1395.03H848.8ZM856.67 1374.5H862.96V1388.41H856.67ZM864.54 1374.5H870.83V1388.41H864.54ZM872.41 1374.5H878.7V1370.86H872.41ZM880.27 1374.5H886.57V1326.48H880.27ZM888.14 1374.5H894.44V1344.03H888.14ZM896.01 1374.5H902.31V1305.95H896.01ZM903.88 1374.5H910.17V1359.27H903.88ZM911.75 1374.5H918.04V1325.16H911.75ZM919.62 1374.5H925.91V1349.66H919.62ZM927.48 1374.5H933.78V1340.06H927.48ZM935.35 1374.5H941.65V1350.33H935.35ZM943.22 1374.5H949.51V1344.03H943.22ZM951.09 1374.5H957.38V1375.16H951.09ZM958.96 1374.5H965.25V1357.28H958.96ZM966.82 1374.5H973.12V1323.84H966.82ZM974.69 1374.5H980.99V1329.13H974.69ZM982.56 1374.5H988.85V1366.22H982.56ZM990.43 1374.5H996.72V1303.97H990.43ZM998.3 1374.5H1004.59V1340.06H998.3ZM1006.16 1374.5H1012.46V1336.42H1006.16ZM1014.03 1374.5H1020.33V1361.92H1014.03ZM1021.9 1374.5H1028.2V1314.23H1021.9ZM1029.77 1374.5H1036.06V1328.8H1029.77ZM1037.64 1374.5H1043.93V1378.8H1037.64ZM1045.51 1374.5H1051.8V1388.08H1045.51ZM1053.37 1374.5H1059.67V1387.75H1053.37ZM1061.24 1374.5H1067.54V1395.69H1061.24ZM1069.11 1374.5H1075.4V1397.02H1069.11ZM1076.98 1374.5H1083.27V1401.32H1076.98ZM1084.85 1374.5H1091.14V1402.98H1084.85ZM1092.71 1374.5H1099.01V1395.36H1092.71ZM1100.58 1374.5H1106.88V1383.77H1100.58ZM1108.45 1374.5H1114.75V1394.04H1108.45ZM1116.32 1374.5H1122.61V1398.01H1116.32ZM1124.19 1374.5H1130.48V1393.38H1124.19ZM1132.05 1374.5H1138.35V1388.41H1132.05ZM1139.92 1374.5H1146.22V1388.41H1139.92ZM1147.79 1374.5H1154.09V1395.36H1147.79ZM1155.66 1374.5H1161.95V1395.36H1155.66ZM1163.53 1374.5H1169.82V1402.98H1163.53ZM1171.4 1374.5H1177.69V1400.99H1171.4ZM1179.26 1374.5H1185.56V1402.65H1179.26ZM1187.13 1374.5H1193.43V1398.67H1187.13ZM1195 1374.5H1201.29V1403.97H1195ZM1202.87 1374.5H1209.16V1393.38H1202.87ZM1210.74 1374.5H1217.03V1401.32H1210.74ZM1218.6 1374.5H1224.9V1387.75H1218.6ZM1226.47 1374.5H1232.77V1397.02H1226.47ZM1234.34 1374.5H1240.64V1388.41H1234.34ZM1242.21 1374.5H1248.5V1394.37H1242.21ZM1250.08 1374.5H1256.37V1396.02H1250.08ZM1257.95 1374.5H1264.24V1401.98H1257.95ZM1265.81 1374.5H1272.11V1398.67H1265.81ZM1273.68 1374.5H1279.98V1398.67H1273.68ZM1281.55 1374.5H1287.84V1399.67H1281.55ZM1289.42 1374.5H1295.71V1395.36H1289.42ZM1297.29 1374.5H1303.58V1386.42H1297.29ZM1305.15 1374.5H1311.45V1390.39H1305.15ZM1313.02 1374.5H1319.32V1396.02H1313.02ZM1320.89 1374.5H1327.18V1397.02H1320.89ZM1328.76 1374.5H1335.05V1388.41H1328.76ZM1336.63 1374.5H1342.92V1393.71H1336.63ZM1344.49 1374.5H1350.79V1397.68H1344.49ZM1352.36 1374.5H1358.66V1403.97H1352.36ZM1360.23 1374.5H1366.53V1400.33H1360.23ZM1368.1 1374.5H1374.39V1401.65H1368.1ZM1375.97 1374.5H1382.26V1400.33H1375.97ZM1383.84 1374.5H1390.13V1400.33H1383.84ZM1391.7 1374.5H1398V1395.03H1391.7ZM1399.57 1374.5H1405.87V1397.02H1399.57ZM1407.44 1374.5H1413.73V1401.32H1407.44ZM1415.31 1374.5H1421.6V1397.02H1415.31ZM1423.18 1374.5H1429.47V1388.41H1423.18ZM1431.04 1374.5H1437.34V1395.69H1431.04ZM1438.91 1374.5H1445.21V1391.39H1438.91ZM1446.78 1374.5H1453.07V1382.45H1446.78ZM1454.65 1374.5H1460.94V1400.66H1454.65ZM1462.52 1374.5H1468.81V1367.55H1462.52ZM1470.38 1374.5H1476.68V1398.67H1470.38ZM1478.25 1374.5H1481.4V1376.82H1478.25Z" fill="#0072bd" stroke="#000" stroke-opacity="0.35" stroke-width="0.5"/>
<path d="M49.4 1374.5H1481.4" stroke="#454545" stroke-width="1"/>
<text transform="translate(45.4 1474.04) rotate(-45)" font-size="13" text-anchor="end" dominant-baseline="central" fill="#262626">-3</text>
<text transform="translate(45.4 1440.93) rotate(-45)" font-size="13" text-anchor="end" dominant-baseline="central" fill="#262626">-2</text>
<text transform="translate(45.4 1407.81) rotate(-45)" font-size="13" text-anchor="end" dominant-baseline="central" fill="#262626">-1</text>
<text transform="translate(45.4 1374.7) rotate(-45)" font-size="13" text-anchor="end" dominant-baseline="central" fill="#262626">0</text>
<text transform="translate(45.4 1341.59) rotate(-45)" font-size="13" text-anchor="end" dominant-baseline="central" fill="#262626">1</text>
<text transform="translate(45.4 1308.47) rotate(-45)" font-size="13" text-anchor="end" dominant-baseline="central" fill="#262626">2</text>
<text transform="translate(45.4 1275.36) rotate(-45)" font-size="13" text-anchor="end" dominant-baseline="central" fill="#262626">3</text>
<text transform="translate(20.9 1374.5) rotate(-90)" font-size="13.7" text-anchor="middle" fill="#262626">Standardized Precipitation</text>
<text transform="translate(55.9 1504.4) rotate(-45)" font-size="12.4" text-anchor="end" fill="#262626">Apr-02</text>
<text transform="translate(103.11 1504.4) rotate(-45)" font-size="12.4" text-anchor="end" fill="#262626">Oct-02</text>
<text transform="translate(150.32 1504.4) rotate(-45)" font-size="12.4" text-anchor="end" fill="#262626">Apr-03</text>
<text transform="translate(197.53 1504.4) rotate(-45)" font-size="12.4" text-anchor="end" fill="#262626">Oct-03</text>
<text transform="translate(244.74 1504.4) rotate(-45)" font-size="12.4" text-anchor="end" fill="#262626">Apr-04</text>
<text transform="translate(291.94 1504.4) rotate(-45)" font-size="12.4" text-anchor="end" fill="#262626">Oct-04</text>
<text transform="translate(339.15 1504.4) rotate(-45)" font-size="12.4" text-anchor="end" fill="#262626">Apr-05</text>
<text transform="translate(386.36 1504.4) rotate(-45)" font-size="12.4" text-anchor="end" fill="#262626">Oct-05</text>
<text transform="translate(433.57 1504.4) rotate(-45)" font-size="12.4" text-anchor="end" fill="#262626">Apr-06</text>
<text transform="translate(480.78 1504.4) rotate(-45)" font-size="12.4" text-anchor="end" fill="#262626">Oct-06</text>
<text transform="translate(527.99 1504.4) rotate(-45)" font-size="12.4" text-anchor="end" fill="#262626">Apr-07</text>
<text transform="translate(575.2 1504.4) rotate(-45)" font-size="12.4" text-anchor="end" fill="#262626">Oct-07</text>
<text transform="translate(622.41 1504.4) rotate(-45)" font-size="12.4" text-anchor="end" fill="#262626">Apr-08</text>
<text transform="translate(669.61 1504.4) rotate(-45)" font-size="12.4" text-anchor="end" fill="#262626">Oct-08</text>
<text transform="translate(716.82 1504.4) rotate(-45)" font-size="12.4" text-anchor="end" fill="#262626">Apr-09</text>
<text transform="translate(764.03 1504.4) rotate(-45)" font-size="12.4" text-anchor="end" fill="#262626">Oct-09</text>
<text transform="translate(811.24 1504.4) rotate(-45)" font-size="12.4" text-anchor="end" fill="#262626">Apr-10</text>
<text transform="translate(858.45 1504.4) rotate(-45)" font-size="12.4" text-anchor="end" fill="#262626">Oct-10</text>
<text transform="translate(905.66 1504.4) rotate(-45)" font-size="12.4" text-anchor="end" fill="#262626">Apr-11</text>
<text transform="translate(952.87 1504.4) rotate(-45)" font-size="12.4" text-anchor="end" fill="#262626">Oct-11</text>
<text transform="translate(1000.08 1504.4) rotate(-45)" font-size="12.4" text-anchor="end" fill="#262626">Apr-12</text>
<text transform="translate(1047.28 1504.4) rotate(-45)" font-size="12.4" text-anchor="end" fill="#262626">Oct-12</text>
<text transform="translate(1094.49 1504.4) rotate(-45)" font-size="12.4" text-anchor="end" fill="#262626">Apr-13</text>
<text transform="translate(1141.7 1504.4) rotate(-45)" font-size="12.4" text-anchor="end" fill="#262626">Oct-13</text>
<text transform="translate(1188.91 1504.4) rotate(-45)" font-size="12.4" text-anchor="end" fill="#262626">Apr-14</text>
<text transform="translate(1236.12 1504.4) rotate(-45)" font-size="12.4" text-anchor="end" fill="#262626">Oct-14</text>
<text transform="translate(1283.33 1504.4) rotate(-45)" font-size="12.4" text-anchor="end" fill="#262626">Apr-15</text>
<text transform="translate(1330.54 1504.4) rotate(-45)" font-size="12.4" text-anchor="end" fill="#262626">Oct-15</text>
<text transform="translate(1377.75 1504.4) rotate(-45)" font-size="12.4" text-anchor="end" fill="#262626">Apr-16</text>
<text transform="translate(1424.95 1504.4) rotate(-45)" font-size="12.4" text-anchor="end" fill="#262626">Oct-16</text>
<text transform="translate(1472.16 1504.4) rotate(-45)" font-size="12.4" text-anchor="end" fill="#262626">Apr-17</text>
<text transform="translate(742.3 1593) scale(1.07 1)" font-family="'Liberation Serif', serif" font-size="41" text-anchor="middle" fill="#000">(c)</text>
<path d="M42.6 1608.2V2019.4M89.78 1608.2V2019.4M136.96 1608.2V2019.4M184.14 1608.2V2019.4M231.32 1608.2V2019.4M278.5 1608.2V2019.4M325.67 1608.2V2019.4M372.85 1608.2V2019.4M420.03 1608.2V2019.4M467.21 1608.2V2019.4M514.39 1608.2V2019.4M561.57 1608.2V2019.4M608.75 1608.2V2019.4M655.93 1608.2V2019.4M703.11 1608.2V2019.4M750.29 1608.2V2019.4M797.47 1608.2V2019.4M844.65 1608.2V2019.4M891.82 1608.2V2019.4M939 1608.2V2019.4M986.18 1608.2V2019.4M1033.36 1608.2V2019.4M1080.54 1608.2V2019.4M1127.72 1608.2V2019.4M1174.9 1608.2V2019.4M1222.08 1608.2V2019.4M1269.26 1608.2V2019.4M1316.44 1608.2V2019.4M1363.62 1608.2V2019.4M1410.79 1608.2V2019.4M1457.97 1608.2V2019.4M42.6 1990.03H1473.7M42.6 1931.29H1473.7M42.6 1872.54H1473.7M42.6 1813.8H1473.7M42.6 1755.06H1473.7M42.6 1696.31H1473.7M42.6 1637.57H1473.7" stroke="#262626" stroke-opacity="0.15" stroke-width="1" fill="none"/>
<path d="M42.6 2019.4V2005.4M42.6 1608.2V1622.2M89.78 2019.4V2005.4M89.78 1608.2V1622.2M136.96 2019.4V2005.4M136.96 1608.2V1622.2M184.14 2019.4V2005.4M184.14 1608.2V1622.2M231.32 2019.4V2005.4M231.32 1608.2V1622.2M278.5 2019.4V2005.4M278.5 1608.2V1622.2M325.67 2019.4V2005.4M325.67 1608.2V1622.2M372.85 2019.4V2005.4M372.85 1608.2V1622.2M420.03 2019.4V2005.4M420.03 1608.2V1622.2M467.21 2019.4V2005.4M467.21 1608.2V1622.2M514.39 2019.4V2005.4M514.39 1608.2V1622.2M561.57 2019.4V2005.4M561.57 1608.2V1622.2M608.75 2019.4V2005.4M608.75 1608.2V1622.2M655.93 2019.4V2005.4M655.93 1608.2V1622.2M703.11 2019.4V2005.4M703.11 1608.2V1622.2M750.29 2019.4V2005.4M750.29 1608.2V1622.2M797.47 2019.4V2005.4M797.47 1608.2V1622.2M844.65 2019.4V2005.4M844.65 1608.2V1622.2M891.82 2019.4V2005.4M891.82 1608.2V1622.2M939 2019.4V2005.4M939 1608.2V1622.2M986.18 2019.4V2005.4M986.18 1608.2V1622.2M1033.36 2019.4V2005.4M1033.36 1608.2V1622.2M1080.54 2019.4V2005.4M1080.54 1608.2V1622.2M1127.72 2019.4V2005.4M1127.72 1608.2V1622.2M1174.9 2019.4V2005.4M1174.9 1608.2V1622.2M1222.08 2019.4V2005.4M1222.08 1608.2V1622.2M1269.26 2019.4V2005.4M1269.26 1608.2V1622.2M1316.44 2019.4V2005.4M1316.44 1608.2V1622.2M1363.62 2019.4V2005.4M1363.62 1608.2V1622.2M1410.79 2019.4V2005.4M1410.79 1608.2V1622.2M1457.97 2019.4V2005.4M1457.97 1608.2V1622.2M42.6 1990.03H56.6M1473.7 1990.03H1459.7M42.6 1931.29H56.6M1473.7 1931.29H1459.7M42.6 1872.54H56.6M1473.7 1872.54H1459.7M42.6 1813.8H56.6M1473.7 1813.8H1459.7M42.6 1755.06H56.6M1473.7 1755.06H1459.7M42.6 1696.31H56.6M1473.7 1696.31H1459.7M42.6 1637.57H56.6M1473.7 1637.57H1459.7" stroke="#454545" stroke-width="1.3" fill="none"/>
<rect x="42.6" y="1608.2" width="1431.1" height="411.2" stroke="#454545" stroke-width="1.4" fill="none"/>
<rect x="443.62" y="1608.2" width="15.73" height="411.2" fill="#ff0000" fill-opacity="0.35"/>
<rect x="585.16" y="1608.2" width="15.73" height="411.2" fill="#ff0000" fill-opacity="0.35"/>
<rect x="994.05" y="1608.2" width="15.73" height="411.2" fill="#ff0000" fill-opacity="0.35"/>
<rect x="1072.68" y="1608.2" width="15.73" height="411.2" fill="#ff0000" fill-opacity="0.35"/>
<rect x="1292.85" y="1608.2" width="70.77" height="411.2" fill="#ff0000" fill-opacity="0.35"/>
<rect x="1395.07" y="1608.2" width="78.63" height="411.2" fill="#ff0000" fill-opacity="0.35"/>
<rect x="797.47" y="1608.2" width="23.59" height="411.2" fill="#008040" fill-opacity="0.4"/>
<rect x="994.05" y="1608.2" width="15.73" height="411.2" fill="#008040" fill-opacity="0.4"/>
<rect x="1080.54" y="1608.2" width="15.73" height="411.2" fill="#008040" fill-opacity="0.4"/>
<rect x="1198.49" y="1608.2" width="55.04" height="411.2" fill="#008040" fill-opacity="0.4"/>
<rect x="1292.85" y="1608.2" width="180.85" height="411.2" fill="#008040" fill-opacity="0.4"/>
<polyline points="42.6,1711.59 50.46,1736.26 58.33,1812.63 66.19,1914.84 74.05,1773.85 81.92,1752.71 89.78,1784.43 97.64,1742.72 105.51,1742.72 113.37,1726.86 121.23,1711 129.1,1766.81 136.96,1746.25 144.82,1770.33 152.68,1775.62 160.55,1749.77 168.41,1769.16 176.27,1713.35 184.14,1786.19 192,1727.45 199.86,1704.54 207.73,1726.86 215.59,1799.7 223.45,1795 231.32,1724.51 239.18,1748.6 247.04,1793.83 254.91,1824.37 262.77,1811.45 270.63,1823.79 278.5,1722.75 286.36,1750.36 294.22,1779.14 302.09,1746.25 309.95,1761.52 317.81,1755.06 325.67,1780.32 333.54,1795.59 341.4,1836.71 349.26,1790.89 357.13,1870.19 364.99,1744.48 372.85,1802.05 380.72,1762.11 388.58,1782.08 396.44,1808.51 404.31,1828.49 412.17,1789.13 420.03,1793.24 427.9,1712.76 435.76,1823.79 443.62,1856.68 451.49,1879 459.35,1847.87 467.21,1825.55 475.08,1806.16 482.94,1799.11 490.8,1841.41 498.66,1738.61 506.53,1724.51 514.39,1806.16 522.25,1789.13 530.12,1789.13 537.98,1842 545.84,1810.86 553.71,1833.19 561.57,1826.72 569.43,1817.32 577.3,1820.26 585.16,1845.52 593.02,1851.98 600.89,1849.05 608.75,1839.65 616.61,1852.57 624.48,1757.99 632.34,1771.51 640.2,1799.11 648.07,1822.02 655.93,1804.4 663.79,1788.54 671.65,1807.93 679.52,1836.71 687.38,1836.71 695.24,1837.3 703.11,1803.81 710.97,1841.41 718.83,1863.73 726.7,1905.44 734.56,1797.35 742.42,1807.93 750.29,1671.64 758.15,1809.1 766.01,1833.19 773.88,1857.27 781.74,1815.56 789.6,1860.79 797.47,1867.84 805.33,1841.41 813.19,1871.96 821.06,1711.59 828.92,1717.46 836.78,1715.11 844.65,1826.72 852.51,1799.7 860.37,1802.05 868.23,1814.97 876.1,1803.81 883.96,1821.44 891.82,1823.2 899.69,1766.81 907.55,1771.51 915.41,1764.46 923.28,1704.54 931.14,1815.56 939,1834.36 946.87,1805.58 954.73,1823.79 962.59,1783.84 970.46,1849.05 978.32,1830.25 986.18,1817.32 994.05,1910.73 1001.91,1892.52 1009.77,1863.73 1017.64,1791.48 1025.5,1806.75 1033.36,1863.14 1041.22,1847.87 1049.09,1839.65 1056.95,1808.51 1064.81,1738.02 1072.68,1852.57 1080.54,1854.33 1088.4,1890.75 1096.27,1654.61 1104.13,1810.28 1111.99,1825.55 1119.86,1867.84 1127.72,1819.67 1135.58,1833.19 1143.45,1829.07 1151.31,1773.27 1159.17,1799.7 1167.04,1805.58 1174.9,1846.7 1182.76,1837.88 1190.63,1861.97 1198.49,1801.46 1206.35,1898.39 1214.21,1867.84 1222.08,1839.65 1229.94,1872.54 1237.8,1782.08 1245.67,1799.11 1253.53,1847.87 1261.39,1715.11 1269.26,1792.65 1277.12,1843.76 1284.98,1793.24 1292.85,1847.87 1300.71,1870.78 1308.57,1900.74 1316.44,1886.05 1324.3,1899.56 1332.16,1924.24 1340.03,1934.22 1347.89,1901.91 1355.75,1864.32 1363.62,1859.62 1371.48,1797.35 1379.34,1845.52 1387.2,1752.71 1395.07,1881.94 1402.93,1876.07 1410.79,1908.96 1418.66,1941.86 1426.52,1931.87 1434.38,1898.39 1442.25,1919.54 1450.11,1938.92 1457.97,1945.97 1465.84,1888.4 1473.7,1864.91" stroke="#0606d6" stroke-width="2.1" fill="none" stroke-linejoin="miter" stroke-miterlimit="10"/>
<polyline points="42.6,1709.83 50.46,1706.3 58.33,1704.54 66.19,1723.92 74.05,1750.36 81.92,1745.07 89.78,1738.02 97.64,1738.61 105.51,1739.2 113.37,1738.61 121.23,1733.91 129.1,1730.97 136.96,1733.91 144.82,1732.15 152.68,1726.27 160.55,1738.61 168.41,1729.21 176.27,1727.45 184.14,1726.86 192,1730.97 199.86,1718.64 207.73,1722.16 215.59,1725.1 223.45,1742.72 231.32,1751.53 239.18,1747.42 247.04,1751.53 254.91,1753.88 262.77,1757.99 270.63,1768.57 278.5,1762.69 286.36,1751.53 294.22,1762.11 302.09,1754.47 309.95,1743.9 317.81,1741.55 325.67,1754.47 333.54,1756.23 341.4,1766.81 349.26,1751.53 357.13,1757.41 364.99,1764.46 372.85,1759.17 380.72,1757.99 388.58,1769.16 396.44,1765.04 404.31,1773.27 412.17,1770.92 420.03,1781.49 427.9,1782.67 435.76,1790.89 443.62,1786.19 451.49,1785.02 459.35,1795.59 467.21,1805.58 475.08,1805.58 482.94,1793.83 490.8,1806.75 498.66,1799.11 506.53,1784.43 514.39,1795.59 522.25,1799.11 530.12,1797.94 537.98,1808.51 545.84,1809.1 553.71,1808.51 561.57,1803.23 569.43,1813.8 577.3,1811.45 585.16,1813.21 593.02,1820.26 600.89,1819.67 608.75,1834.95 616.61,1829.07 624.48,1821.44 632.34,1784.43 640.2,1777.38 648.07,1785.02 655.93,1783.25 663.79,1788.54 671.65,1792.65 679.52,1796.76 687.38,1799.7 695.24,1806.16 703.11,1808.51 710.97,1820.26 718.83,1833.19 726.7,1848.46 734.56,1832.01 742.42,1817.91 750.29,1825.55 758.15,1824.37 766.01,1824.37 773.88,1832.6 781.74,1834.36 789.6,1834.36 797.47,1856.68 805.33,1856.68 813.19,1852.57 821.06,1854.33 828.92,1813.21 836.78,1799.7 844.65,1795.59 852.51,1800.29 860.37,1806.16 868.23,1799.11 876.1,1803.81 883.96,1803.81 891.82,1829.07 899.69,1828.49 907.55,1794.41 915.41,1797.94 923.28,1802.05 931.14,1795 939,1802.64 946.87,1802.05 954.73,1812.63 962.59,1810.28 970.46,1815.56 978.32,1817.32 986.18,1830.25 994.05,1863.14 1001.91,1856.68 1009.77,1865.49 1017.64,1839.65 1025.5,1820.26 1033.36,1846.7 1041.22,1844.35 1049.09,1842 1056.95,1840.23 1064.81,1822.02 1072.68,1835.53 1080.54,1846.7 1088.4,1847.87 1096.27,1847.87 1104.13,1821.44 1111.99,1830.84 1119.86,1839.06 1127.72,1839.06 1135.58,1834.95 1143.45,1830.84 1151.31,1820.26 1159.17,1830.84 1167.04,1837.3 1174.9,1850.22 1182.76,1814.39 1190.63,1808.51 1198.49,1847.87 1206.35,1877.24 1214.21,1887.23 1222.08,1878.42 1229.94,1869.61 1237.8,1843.17 1245.67,1846.11 1253.53,1849.05 1261.39,1836.71 1269.26,1829.07 1277.12,1817.32 1284.98,1837.88 1292.85,1894.28 1300.71,1916.01 1308.57,1916.01 1316.44,1901.91 1324.3,1900.74 1332.16,1923.06 1340.03,1918.95 1347.89,1910.73 1355.75,1873.72 1363.62,1844.35 1371.48,1883.12 1379.34,1912.49 1387.2,1925.41 1395.07,1927.76 1402.93,1930.11 1410.79,1933.64 1418.66,1937.16 1426.52,1933.64 1434.38,1934.81 1442.25,1937.16 1450.11,1960.66 1457.97,1954.2 1465.84,1927.76 1473.7,1913.66" stroke="#b35d1e" stroke-width="2.1" fill="none" stroke-linejoin="miter" stroke-miterlimit="10"/>
<text x="35.6" y="1989.83" font-size="14" text-anchor="end" dominant-baseline="central" fill="#262626">-3</text>
<text x="35.6" y="1931.09" font-size="14" text-anchor="end" dominant-baseline="central" fill="#262626">-2</text>
<text x="35.6" y="1872.34" font-size="14" text-anchor="end" dominant-baseline="central" fill="#262626">-1</text>
<text x="35.6" y="1813.6" font-size="14" text-anchor="end" dominant-baseline="central" fill="#262626">0</text>
<text x="35.6" y="1754.86" font-size="14" text-anchor="end" dominant-baseline="central" fill="#262626">1</text>
<text x="35.6" y="1696.11" font-size="14" text-anchor="end" dominant-baseline="central" fill="#262626">2</text>
<text x="35.6" y="1637.37" font-size="14" text-anchor="end" dominant-baseline="central" fill="#262626">3</text>
<text transform="translate(16.1 1813.8) rotate(-90)" font-size="15.3" text-anchor="middle" fill="#262626">Index Value</text>
<rect x="1230.3" y="1619.3" width="232.6" height="32.1" fill="#fff" stroke="#454545" stroke-width="1"/>
<path d="M1234.85 1628H1275.65" stroke="#0606d6" stroke-width="1.5"/>
<path d="M1355.49 1628H1395.91" stroke="#b35d1e" stroke-width="1.5"/>
<rect x="1251.05" y="1638.2" width="8.7" height="8.7" fill="#fa7882"/>
<rect x="1371.9" y="1638.2" width="8.7" height="8.7" fill="#00803c"/>
<text x="1278.82" y="1628.5" font-size="11" dominant-baseline="central" fill="#000">CCDI</text>
<text x="1399.86" y="1628.5" font-size="11" dominant-baseline="central" fill="#000">DSI</text>
<text x="1278.82" y="1644" font-size="11" dominant-baseline="central" fill="#000">CCDI drought</text>
<text x="1399.86" y="1644" font-size="11" dominant-baseline="central" fill="#000">DSI drought</text>
<path d="M42.6 2035.6V2267.4M89.78 2035.6V2267.4M136.96 2035.6V2267.4M184.14 2035.6V2267.4M231.32 2035.6V2267.4M278.5 2035.6V2267.4M325.67 2035.6V2267.4M372.85 2035.6V2267.4M420.03 2035.6V2267.4M467.21 2035.6V2267.4M514.39 2035.6V2267.4M561.57 2035.6V2267.4M608.75 2035.6V2267.4M655.93 2035.6V2267.4M703.11 2035.6V2267.4M750.29 2035.6V2267.4M797.47 2035.6V2267.4M844.65 2035.6V2267.4M891.82 2035.6V2267.4M939 2035.6V2267.4M986.18 2035.6V2267.4M1033.36 2035.6V2267.4M1080.54 2035.6V2267.4M1127.72 2035.6V2267.4M1174.9 2035.6V2267.4M1222.08 2035.6V2267.4M1269.26 2035.6V2267.4M1316.44 2035.6V2267.4M1363.62 2035.6V2267.4M1410.79 2035.6V2267.4M1457.97 2035.6V2267.4M42.6 2250.84H1473.7M42.6 2217.73H1473.7M42.6 2184.61H1473.7M42.6 2151.5H1473.7M42.6 2118.39H1473.7M42.6 2085.27H1473.7M42.6 2052.16H1473.7" stroke="#262626" stroke-opacity="0.15" stroke-width="1" fill="none"/>
<path d="M42.6 2267.4V2253.4M42.6 2035.6V2049.6M89.78 2267.4V2253.4M89.78 2035.6V2049.6M136.96 2267.4V2253.4M136.96 2035.6V2049.6M184.14 2267.4V2253.4M184.14 2035.6V2049.6M231.32 2267.4V2253.4M231.32 2035.6V2049.6M278.5 2267.4V2253.4M278.5 2035.6V2049.6M325.67 2267.4V2253.4M325.67 2035.6V2049.6M372.85 2267.4V2253.4M372.85 2035.6V2049.6M420.03 2267.4V2253.4M420.03 2035.6V2049.6M467.21 2267.4V2253.4M467.21 2035.6V2049.6M514.39 2267.4V2253.4M514.39 2035.6V2049.6M561.57 2267.4V2253.4M561.57 2035.6V2049.6M608.75 2267.4V2253.4M608.75 2035.6V2049.6M655.93 2267.4V2253.4M655.93 2035.6V2049.6M703.11 2267.4V2253.4M703.11 2035.6V2049.6M750.29 2267.4V2253.4M750.29 2035.6V2049.6M797.47 2267.4V2253.4M797.47 2035.6V2049.6M844.65 2267.4V2253.4M844.65 2035.6V2049.6M891.82 2267.4V2253.4M891.82 2035.6V2049.6M939 2267.4V2253.4M939 2035.6V2049.6M986.18 2267.4V2253.4M986.18 2035.6V2049.6M1033.36 2267.4V2253.4M1033.36 2035.6V2049.6M1080.54 2267.4V2253.4M1080.54 2035.6V2049.6M1127.72 2267.4V2253.4M1127.72 2035.6V2049.6M1174.9 2267.4V2253.4M1174.9 2035.6V2049.6M1222.08 2267.4V2253.4M1222.08 2035.6V2049.6M1269.26 2267.4V2253.4M1269.26 2035.6V2049.6M1316.44 2267.4V2253.4M1316.44 2035.6V2049.6M1363.62 2267.4V2253.4M1363.62 2035.6V2049.6M1410.79 2267.4V2253.4M1410.79 2035.6V2049.6M1457.97 2267.4V2253.4M1457.97 2035.6V2049.6M42.6 2250.84H56.6M1473.7 2250.84H1459.7M42.6 2217.73H56.6M1473.7 2217.73H1459.7M42.6 2184.61H56.6M1473.7 2184.61H1459.7M42.6 2151.5H56.6M1473.7 2151.5H1459.7M42.6 2118.39H56.6M1473.7 2118.39H1459.7M42.6 2085.27H56.6M1473.7 2085.27H1459.7M42.6 2052.16H56.6M1473.7 2052.16H1459.7" stroke="#454545" stroke-width="1.3" fill="none"/>
<rect x="42.6" y="2035.6" width="1431.1" height="231.8" stroke="#454545" stroke-width="1.4" fill="none"/>
<path d="M42.6 2151.5H45.75V2126.66H42.6ZM47.32 2151.5H53.61V2162.1H47.32ZM55.18 2151.5H61.47V2169.38H55.18ZM63.04 2151.5H69.33V2218.06H63.04ZM70.91 2151.5H77.2V2138.25H70.91ZM78.77 2151.5H85.06V2120.7H78.77ZM86.63 2151.5H92.92V2165.08H86.63ZM94.5 2151.5H100.79V2171.37H94.5ZM102.36 2151.5H108.65V2144.55H102.36ZM110.22 2151.5H116.51V2125.01H110.22ZM118.09 2151.5H124.38V2105.8H118.09ZM125.95 2151.5H132.24V2162.1H125.95ZM133.81 2151.5H140.1V2153.82H133.81ZM141.68 2151.5H147.97V2172.03H141.68ZM149.54 2151.5H155.83V2144.55H149.54ZM157.4 2151.5H163.69V2127.66H157.4ZM165.27 2151.5H171.56V2138.59H165.27ZM173.13 2151.5H179.42V2097.85H173.13ZM180.99 2151.5H187.28V2171.37H180.99ZM188.86 2151.5H195.15V2136.6H188.86ZM196.72 2151.5H203.01V2109.78H196.72ZM204.58 2151.5H210.87V2138.25H204.58ZM212.44 2151.5H218.74V2180.97H212.44ZM220.31 2151.5H226.6V2177.66H220.31ZM228.17 2151.5H234.46V2082.62H228.17ZM236.03 2151.5H242.32V2142.23H236.03ZM243.9 2151.5H250.19V2151.17H243.9ZM251.76 2151.5H258.05V2165.74H251.76ZM259.62 2151.5H265.91V2159.45H259.62ZM267.49 2151.5H273.78V2165.74H267.49ZM275.35 2151.5H281.64V2111.76H275.35ZM283.21 2151.5H289.5V2143.88H283.21ZM291.08 2151.5H297.37V2174.02H291.08ZM298.94 2151.5H305.23V2130.64H298.94ZM306.8 2151.5H313.09V2141.9H306.8ZM314.67 2151.5H320.96V2146.53H314.67ZM322.53 2151.5H328.82V2187.59H322.53ZM330.39 2151.5H336.68V2176.67H330.39ZM338.26 2151.5H344.55V2172.69H338.26ZM346.12 2151.5H352.41V2148.19H346.12ZM353.98 2151.5H360.27V2196.2H353.98ZM361.85 2151.5H368.14V2113.42H361.85ZM369.71 2151.5H376V2168.39H369.71ZM377.57 2151.5H383.86V2171.7H377.57ZM385.43 2151.5H391.73V2166.73H385.43ZM393.3 2151.5H399.59V2189.25H393.3ZM401.16 2151.5H407.45V2181.63H401.16ZM409.02 2151.5H415.32V2156.14H409.02ZM416.89 2151.5H423.18V2165.08H416.89ZM424.75 2151.5H431.04V2091.89H424.75ZM432.61 2151.5H438.9V2161.1H432.61ZM440.48 2151.5H446.77V2178.65H440.48ZM448.34 2151.5H454.63V2197.2H448.34ZM456.2 2151.5H462.49V2180.97H456.2ZM464.07 2151.5H470.36V2162.43H464.07ZM471.93 2151.5H478.22V2166.07H471.93ZM479.79 2151.5H486.08V2158.12H479.79ZM487.66 2151.5H493.95V2187.59H487.66ZM495.52 2151.5H501.81V2099.18H495.52ZM503.38 2151.5H509.67V2097.85H503.38ZM511.25 2151.5H517.54V2167.73H511.25ZM519.11 2151.5H525.4V2141.9H519.11ZM526.97 2151.5H533.26V2140.57H526.97ZM534.84 2151.5H541.13V2167.73H534.84ZM542.7 2151.5H548.99V2150.84H542.7ZM550.56 2151.5H556.85V2165.74H550.56ZM558.43 2151.5H564.72V2165.41H558.43ZM566.29 2151.5H572.58V2172.69H566.29ZM574.15 2151.5H580.44V2166.73H574.15ZM582.01 2151.5H588.31V2185.61H582.01ZM589.88 2151.5H596.17V2178.65H589.88ZM597.74 2151.5H604.03V2177H597.74ZM605.6 2151.5H611.89V2162.43H605.6ZM613.47 2151.5H619.76V2171.37H613.47ZM621.33 2151.5H627.62V2118.39H621.33ZM629.19 2151.5H635.48V2132.96H629.19ZM637.06 2151.5H643.35V2149.84H637.06ZM644.92 2151.5H651.21V2162.43H644.92ZM652.78 2151.5H659.07V2157.46H652.78ZM660.65 2151.5H666.94V2148.19H660.65ZM668.51 2151.5H674.8V2174.35H668.51ZM676.37 2151.5H682.66V2190.57H676.37ZM684.24 2151.5H690.53V2177H684.24ZM692.1 2151.5H698.39V2175.01H692.1ZM699.96 2151.5H706.25V2140.24H699.96ZM707.83 2151.5H714.12V2163.09H707.83ZM715.69 2151.5H721.98V2178.32H715.69ZM723.55 2151.5H729.84V2195.87H723.55ZM731.42 2151.5H737.71V2139.58H731.42ZM739.28 2151.5H745.57V2147.86H739.28ZM747.14 2151.5H753.43V2047.52H747.14ZM755 2151.5H761.3V2045.2H755ZM762.87 2151.5H769.16V2167.73H762.87ZM770.73 2151.5H777.02V2181.63H770.73ZM778.59 2151.5H784.88V2144.21H778.59ZM786.46 2151.5H792.75V2177H786.46ZM794.32 2151.5H800.61V2184.61H794.32ZM802.18 2151.5H808.47V2144.88H802.18ZM810.05 2151.5H816.34V2179.32H810.05ZM817.91 2151.5H824.2V2092.89H817.91ZM825.77 2151.5H832.06V2093.22H825.77ZM833.64 2151.5H839.93V2087.26H833.64ZM841.5 2151.5H847.79V2169.05H841.5ZM849.36 2151.5H855.65V2144.21H849.36ZM857.23 2151.5H863.52V2142.56H857.23ZM865.09 2151.5H871.38V2165.41H865.09ZM872.95 2151.5H879.24V2148.19H872.95ZM880.82 2151.5H887.11V2163.42H880.82ZM888.68 2151.5H894.97V2143.22H888.68ZM896.54 2151.5H902.83V2104.48H896.54ZM904.41 2151.5H910.7V2131.3H904.41ZM912.27 2151.5H918.56V2127.99H912.27ZM920.13 2151.5H926.42V2086.93H920.13ZM927.99 2151.5H934.29V2156.14H927.99ZM935.86 2151.5H942.15V2171.04H935.86ZM943.72 2151.5H950.01V2173.02H943.72ZM951.58 2151.5H957.87V2171.7H951.58ZM959.45 2151.5H965.74V2122.69H959.45ZM967.31 2151.5H973.6V2180.31H967.31ZM975.17 2151.5H981.46V2161.77H975.17ZM983.04 2151.5H989.33V2131.63H983.04ZM990.9 2151.5H997.19V2196.87H990.9ZM998.76 2151.5H1005.05V2190.24H998.76ZM1006.63 2151.5H1012.92V2168.39H1006.63ZM1014.49 2151.5H1020.78V2134.28H1014.49ZM1022.35 2151.5H1028.64V2146.53H1022.35ZM1030.22 2151.5H1036.51V2171.37H1030.22ZM1038.08 2151.5H1044.37V2173.02H1038.08ZM1053.81 2151.5H1060.1V2123.35H1053.81ZM1061.67 2151.5H1067.96V2086.93H1061.67ZM1069.53 2151.5H1075.82V2169.38H1069.53ZM1077.4 2151.5H1083.69V2174.35H1077.4ZM1085.26 2151.5H1091.55V2190.91H1085.26ZM1093.12 2151.5H1099.41V2054.14H1093.12ZM1100.98 2151.5H1107.28V2149.18H1100.98ZM1108.85 2151.5H1115.14V2154.48H1108.85ZM1116.71 2151.5H1123V2184.95H1116.71ZM1124.57 2151.5H1130.87V2144.88H1124.57ZM1132.44 2151.5H1138.73V2140.57H1132.44ZM1148.16 2151.5H1154.45V2103.48H1148.16ZM1156.03 2151.5H1162.32V2132.96H1156.03ZM1163.89 2151.5H1170.18V2132.29H1163.89ZM1171.75 2151.5H1178.04V2161.1H1171.75ZM1179.62 2151.5H1185.91V2171.04H1179.62ZM1187.48 2151.5H1193.77V2181.3H1187.48ZM1195.34 2151.5H1201.63V2141.23H1195.34ZM1203.21 2151.5H1209.5V2194.22H1203.21ZM1211.07 2151.5H1217.36V2178.65H1211.07ZM1218.93 2151.5H1225.22V2141.9H1218.93ZM1226.8 2151.5H1233.09V2173.02H1226.8ZM1234.66 2151.5H1240.95V2050.17H1234.66ZM1242.52 2151.5H1248.81V2108.78H1242.52ZM1250.39 2151.5H1256.68V2165.08H1250.39ZM1258.25 2151.5H1264.54V2059.77H1258.25ZM1266.11 2151.5H1272.4V2083.28H1266.11ZM1273.98 2151.5H1280.27V2174.68H1273.98ZM1281.84 2151.5H1288.13V2136.27H1281.84ZM1289.7 2151.5H1295.99V2158.45H1289.7ZM1297.56 2151.5H1303.86V2169.05H1297.56ZM1305.43 2151.5H1311.72V2194.55H1305.43ZM1313.29 2151.5H1319.58V2162.43H1313.29ZM1321.15 2151.5H1327.44V2142.56H1321.15ZM1329.02 2151.5H1335.31V2171.37H1329.02ZM1336.88 2151.5H1343.17V2188.59H1336.88ZM1344.74 2151.5H1351.03V2175.67H1344.74ZM1352.61 2151.5H1358.9V2153.82H1352.61ZM1360.47 2151.5H1366.76V2190.91H1360.47ZM1368.33 2151.5H1374.62V2091.89H1368.33ZM1376.2 2151.5H1382.49V2154.48H1376.2ZM1384.06 2151.5H1390.35V2104.81H1384.06ZM1391.92 2151.5H1398.21V2175.01H1391.92ZM1399.79 2151.5H1406.08V2175.01H1399.79ZM1407.65 2151.5H1413.94V2163.75H1407.65ZM1415.51 2151.5H1421.8V2173.36H1415.51ZM1423.38 2151.5H1429.67V2172.03H1423.38ZM1431.24 2151.5H1437.53V2137.59H1431.24ZM1439.1 2151.5H1445.39V2179.32H1439.1ZM1446.97 2151.5H1453.26V2164.08H1446.97ZM1454.83 2151.5H1461.12V2173.36H1454.83ZM1462.69 2151.5H1468.98V2133.29H1462.69ZM1470.55 2151.5H1473.7V2164.75H1470.55Z" fill="#0072bd" stroke="#000" stroke-opacity="0.35" stroke-width="0.5"/>
<path d="M42.6 2151.5H1473.7" stroke="#454545" stroke-width="1"/>
<text transform="translate(38.6 2251.04) rotate(-45)" font-size="13" text-anchor="end" dominant-baseline="central" fill="#262626">-3</text>
<text transform="translate(38.6 2217.93) rotate(-45)" font-size="13" text-anchor="end" dominant-baseline="central" fill="#262626">-2</text>
<text transform="translate(38.6 2184.81) rotate(-45)" font-size="13" text-anchor="end" dominant-baseline="central" fill="#262626">-1</text>
<text transform="translate(38.6 2151.7) rotate(-45)" font-size="13" text-anchor="end" dominant-baseline="central" fill="#262626">0</text>
<text transform="translate(38.6 2118.59) rotate(-45)" font-size="13" text-anchor="end" dominant-baseline="central" fill="#262626">1</text>
<text transform="translate(38.6 2085.47) rotate(-45)" font-size="13" text-anchor="end" dominant-baseline="central" fill="#262626">2</text>
<text transform="translate(38.6 2052.36) rotate(-45)" font-size="13" text-anchor="end" dominant-baseline="central" fill="#262626">3</text>
<text transform="translate(14.1 2151.5) rotate(-90)" font-size="13.7" text-anchor="middle" fill="#262626">Standardized Precipitation</text>
<text transform="translate(49.1 2281.4) rotate(-45)" font-size="12.4" text-anchor="end" fill="#262626">Apr-02</text>
<text transform="translate(96.28 2281.4) rotate(-45)" font-size="12.4" text-anchor="end" fill="#262626">Oct-02</text>
<text transform="translate(143.46 2281.4) rotate(-45)" font-size="12.4" text-anchor="end" fill="#262626">Apr-03</text>
<text transform="translate(190.64 2281.4) rotate(-45)" font-size="12.4" text-anchor="end" fill="#262626">Oct-03</text>
<text transform="translate(237.82 2281.4) rotate(-45)" font-size="12.4" text-anchor="end" fill="#262626">Apr-04</text>
<text transform="translate(285 2281.4) rotate(-45)" font-size="12.4" text-anchor="end" fill="#262626">Oct-04</text>
<text transform="translate(332.17 2281.4) rotate(-45)" font-size="12.4" text-anchor="end" fill="#262626">Apr-05</text>
<text transform="translate(379.35 2281.4) rotate(-45)" font-size="12.4" text-anchor="end" fill="#262626">Oct-05</text>
<text transform="translate(426.53 2281.4) rotate(-45)" font-size="12.4" text-anchor="end" fill="#262626">Apr-06</text>
<text transform="translate(473.71 2281.4) rotate(-45)" font-size="12.4" text-anchor="end" fill="#262626">Oct-06</text>
<text transform="translate(520.89 2281.4) rotate(-45)" font-size="12.4" text-anchor="end" fill="#262626">Apr-07</text>
<text transform="translate(568.07 2281.4) rotate(-45)" font-size="12.4" text-anchor="end" fill="#262626">Oct-07</text>
<text transform="translate(615.25 2281.4) rotate(-45)" font-size="12.4" text-anchor="end" fill="#262626">Apr-08</text>
<text transform="translate(662.43 2281.4) rotate(-45)" font-size="12.4" text-anchor="end" fill="#262626">Oct-08</text>
<text transform="translate(709.61 2281.4) rotate(-45)" font-size="12.4" text-anchor="end" fill="#262626">Apr-09</text>
<text transform="translate(756.79 2281.4) rotate(-45)" font-size="12.4" text-anchor="end" fill="#262626">Oct-09</text>
<text transform="translate(803.97 2281.4) rotate(-45)" font-size="12.4" text-anchor="end" fill="#262626">Apr-10</text>
<text transform="translate(851.15 2281.4) rotate(-45)" font-size="12.4" text-anchor="end" fill="#262626">Oct-10</text>
<text transform="translate(898.32 2281.4) rotate(-45)" font-size="12.4" text-anchor="end" fill="#262626">Apr-11</text>
<text transform="translate(945.5 2281.4) rotate(-45)" font-size="12.4" text-anchor="end" fill="#262626">Oct-11</text>
<text transform="translate(992.68 2281.4) rotate(-45)" font-size="12.4" text-anchor="end" fill="#262626">Apr-12</text>
<text transform="translate(1039.86 2281.4) rotate(-45)" font-size="12.4" text-anchor="end" fill="#262626">Oct-12</text>
<text transform="translate(1087.04 2281.4) rotate(-45)" font-size="12.4" text-anchor="end" fill="#262626">Apr-13</text>
<text transform="translate(1134.22 2281.4) rotate(-45)" font-size="12.4" text-anchor="end" fill="#262626">Oct-13</text>
<text transform="translate(1181.4 2281.4) rotate(-45)" font-size="12.4" text-anchor="end" fill="#262626">Apr-14</text>
<text transform="translate(1228.58 2281.4) rotate(-45)" font-size="12.4" text-anchor="end" fill="#262626">Oct-14</text>
<text transform="translate(1275.76 2281.4) rotate(-45)" font-size="12.4" text-anchor="end" fill="#262626">Apr-15</text>
<text transform="translate(1322.94 2281.4) rotate(-45)" font-size="12.4" text-anchor="end" fill="#262626">Oct-15</text>
<text transform="translate(1370.12 2281.4) rotate(-45)" font-size="12.4" text-anchor="end" fill="#262626">Apr-16</text>
<text transform="translate(1417.29 2281.4) rotate(-45)" font-size="12.4" text-anchor="end" fill="#262626">Oct-16</text>
<text transform="translate(1464.47 2281.4) rotate(-45)" font-size="12.4" text-anchor="end" fill="#262626">Apr-17</text>
</svg>
</body></html>
